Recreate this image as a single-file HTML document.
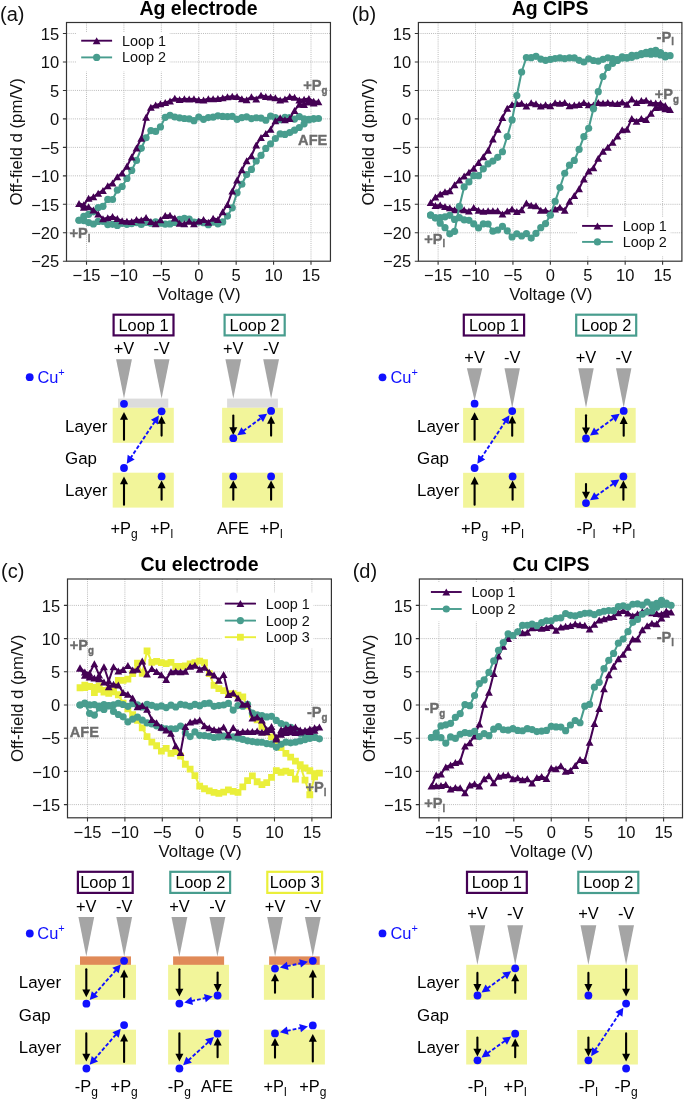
<!DOCTYPE html>
<html><head><meta charset="utf-8"><title>Figure</title><style>
html,body{margin:0;padding:0;background:#fff;}
svg{display:block;will-change:transform;}
text{font-family:"Liberation Sans", sans-serif;}
.tk{font-size:16.5px;fill:#111;}
.al{font-size:16.8px;fill:#111;}
.ti{font-size:19.5px;font-weight:bold;fill:#000;}
.pl{font-size:20px;fill:#111;}
.lg{font-size:14.4px;fill:#111;}
.an{font-size:15px;font-weight:bold;fill:#6c6c6c;stroke:#6c6c6c;stroke-width:0.35px;}
.ans{font-size:10px;}
.dg{font-size:16.4px;fill:#000;}
.ds{font-size:12px;}
.sup{font-size:11px;}
.side{font-size:16.9px;}
</style></head><body>
<svg width="685" height="1099" viewBox="0 0 685 1099">
<rect width="685" height="1099" fill="#fff"/>
<path d="M86.51 22.5V261.2M123.92 22.5V261.2M161.34 22.5V261.2M198.75 22.5V261.2M236.16 22.5V261.2M273.58 22.5V261.2M311 22.5V261.2M66.5 33.49H330.45M66.5 61.96H330.45M66.5 90.43H330.45M66.5 118.9H330.45M66.5 147.37H330.45M66.5 175.84H330.45M66.5 204.31H330.45M66.5 232.78H330.45" stroke="#b4b4b4" stroke-width="0.9" stroke-dasharray="1 1.1" fill="none"/>
<path d="M86.51 261.2v3.6M123.92 261.2v3.6M161.34 261.2v3.6M198.75 261.2v3.6M236.16 261.2v3.6M273.58 261.2v3.6M311 261.2v3.6M66.5 33.49h-3.6M66.5 61.96h-3.6M66.5 90.43h-3.6M66.5 118.9h-3.6M66.5 147.37h-3.6M66.5 175.84h-3.6M66.5 204.31h-3.6M66.5 232.78h-3.6M66.5 261.25h-3.6" stroke="#333" stroke-width="1.1" fill="none"/>
<text x="86.51" y="281" text-anchor="middle" class="tk">−15</text>
<text x="123.92" y="281" text-anchor="middle" class="tk">−10</text>
<text x="161.34" y="281" text-anchor="middle" class="tk">−5</text>
<text x="198.75" y="281" text-anchor="middle" class="tk">0</text>
<text x="236.16" y="281" text-anchor="middle" class="tk">5</text>
<text x="273.58" y="281" text-anchor="middle" class="tk">10</text>
<text x="311" y="281" text-anchor="middle" class="tk">15</text>
<text x="59.2" y="39.69" text-anchor="end" class="tk">15</text>
<text x="59.2" y="68.16" text-anchor="end" class="tk">10</text>
<text x="59.2" y="96.63" text-anchor="end" class="tk">5</text>
<text x="59.2" y="125.1" text-anchor="end" class="tk">0</text>
<text x="59.2" y="153.57" text-anchor="end" class="tk">−5</text>
<text x="59.2" y="182.04" text-anchor="end" class="tk">−10</text>
<text x="59.2" y="210.51" text-anchor="end" class="tk">−15</text>
<text x="59.2" y="238.98" text-anchor="end" class="tk">−20</text>
<text x="59.2" y="267.45" text-anchor="end" class="tk">−25</text>
<text x="199.07" y="300" text-anchor="middle" class="al">Voltage (V)</text>
<text transform="translate(22.2 141.85) rotate(-90)" text-anchor="middle" class="al">Off-field d (pm/V)</text>
<text x="198.47" y="14.5" text-anchor="middle" class="ti">Ag electrode</text>
<text x="0" y="20.9" class="pl">(a)</text>
<polyline points="79.02,220.25 83.81,220.57 88.6,222.61 93.39,223.99 98.18,221.44 102.97,221.52 107.76,224.62 112.55,224.36 117.33,225.42 122.12,223.28 126.91,224.28 131.7,223.62 136.49,222.58 141.28,224.43 146.07,222.4 150.86,223.17 155.65,221.8 160.44,223.26 165.23,224.15 170.02,223.91 174.8,222.41 179.59,219.39 184.38,218.23 189.17,219.12 193.96,222.17 198.75,222.06 203.54,222.74 208.33,224.71 213.12,222.22 217.91,223.87 222.7,221.96 227.48,216.04 232.27,207.83 237.06,192.8 241.85,184.27 246.64,174.54 251.43,169.41 256.22,160.99 261.01,155.38 265.8,148.39 270.59,143.73 275.38,138.52 280.17,133.96 284.95,134.39 289.74,132.56 294.53,130.15 299.32,127.49 304.11,123.78 308.9,119.82 313.69,118.82 318.48,118.52 313.69,118.81 308.9,119.39 304.11,118.79 299.32,116.55 294.53,119.03 289.74,117.65 284.95,117.37 280.17,119.71 275.38,117.72 270.59,116.1 265.8,120.23 261.01,118.07 256.22,117.76 251.43,118.62 246.64,116.93 241.85,117.6 237.06,119.32 232.27,116.47 227.48,116.7 222.7,116.39 217.91,115.81 213.12,117.2 208.33,117.54 203.54,119.35 198.75,116.99 193.96,120.71 189.17,118.97 184.38,118.48 179.59,117.83 174.8,117 170.02,115.23 165.23,117.35 160.44,126.96 155.65,131.38 150.86,130.57 146.07,137.77 141.28,148.36 136.49,160.47 131.7,170.39 126.91,178.46 122.12,186.48 117.33,190.07 112.55,199.5 107.76,199.41 102.97,206.37 98.18,207.57 93.39,211.81 88.6,214.37 83.81,216.47 79.02,220.25" fill="none" stroke="#489d8e" stroke-width="2.05" stroke-linejoin="round"/>
<g fill="#489d8e"><circle cx="79.02" cy="220.25" r="3.6"/><circle cx="83.81" cy="220.57" r="3.6"/><circle cx="88.6" cy="222.61" r="3.6"/><circle cx="93.39" cy="223.99" r="3.6"/><circle cx="98.18" cy="221.44" r="3.6"/><circle cx="102.97" cy="221.52" r="3.6"/><circle cx="107.76" cy="224.62" r="3.6"/><circle cx="112.55" cy="224.36" r="3.6"/><circle cx="117.33" cy="225.42" r="3.6"/><circle cx="122.12" cy="223.28" r="3.6"/><circle cx="126.91" cy="224.28" r="3.6"/><circle cx="131.7" cy="223.62" r="3.6"/><circle cx="136.49" cy="222.58" r="3.6"/><circle cx="141.28" cy="224.43" r="3.6"/><circle cx="146.07" cy="222.4" r="3.6"/><circle cx="150.86" cy="223.17" r="3.6"/><circle cx="155.65" cy="221.8" r="3.6"/><circle cx="160.44" cy="223.26" r="3.6"/><circle cx="165.23" cy="224.15" r="3.6"/><circle cx="170.02" cy="223.91" r="3.6"/><circle cx="174.8" cy="222.41" r="3.6"/><circle cx="179.59" cy="219.39" r="3.6"/><circle cx="184.38" cy="218.23" r="3.6"/><circle cx="189.17" cy="219.12" r="3.6"/><circle cx="193.96" cy="222.17" r="3.6"/><circle cx="198.75" cy="222.06" r="3.6"/><circle cx="203.54" cy="222.74" r="3.6"/><circle cx="208.33" cy="224.71" r="3.6"/><circle cx="213.12" cy="222.22" r="3.6"/><circle cx="217.91" cy="223.87" r="3.6"/><circle cx="222.7" cy="221.96" r="3.6"/><circle cx="227.48" cy="216.04" r="3.6"/><circle cx="232.27" cy="207.83" r="3.6"/><circle cx="237.06" cy="192.8" r="3.6"/><circle cx="241.85" cy="184.27" r="3.6"/><circle cx="246.64" cy="174.54" r="3.6"/><circle cx="251.43" cy="169.41" r="3.6"/><circle cx="256.22" cy="160.99" r="3.6"/><circle cx="261.01" cy="155.38" r="3.6"/><circle cx="265.8" cy="148.39" r="3.6"/><circle cx="270.59" cy="143.73" r="3.6"/><circle cx="275.38" cy="138.52" r="3.6"/><circle cx="280.17" cy="133.96" r="3.6"/><circle cx="284.95" cy="134.39" r="3.6"/><circle cx="289.74" cy="132.56" r="3.6"/><circle cx="294.53" cy="130.15" r="3.6"/><circle cx="299.32" cy="127.49" r="3.6"/><circle cx="304.11" cy="123.78" r="3.6"/><circle cx="308.9" cy="119.82" r="3.6"/><circle cx="313.69" cy="118.82" r="3.6"/><circle cx="318.48" cy="118.52" r="3.6"/><circle cx="313.69" cy="118.81" r="3.6"/><circle cx="308.9" cy="119.39" r="3.6"/><circle cx="304.11" cy="118.79" r="3.6"/><circle cx="299.32" cy="116.55" r="3.6"/><circle cx="294.53" cy="119.03" r="3.6"/><circle cx="289.74" cy="117.65" r="3.6"/><circle cx="284.95" cy="117.37" r="3.6"/><circle cx="280.17" cy="119.71" r="3.6"/><circle cx="275.38" cy="117.72" r="3.6"/><circle cx="270.59" cy="116.1" r="3.6"/><circle cx="265.8" cy="120.23" r="3.6"/><circle cx="261.01" cy="118.07" r="3.6"/><circle cx="256.22" cy="117.76" r="3.6"/><circle cx="251.43" cy="118.62" r="3.6"/><circle cx="246.64" cy="116.93" r="3.6"/><circle cx="241.85" cy="117.6" r="3.6"/><circle cx="237.06" cy="119.32" r="3.6"/><circle cx="232.27" cy="116.47" r="3.6"/><circle cx="227.48" cy="116.7" r="3.6"/><circle cx="222.7" cy="116.39" r="3.6"/><circle cx="217.91" cy="115.81" r="3.6"/><circle cx="213.12" cy="117.2" r="3.6"/><circle cx="208.33" cy="117.54" r="3.6"/><circle cx="203.54" cy="119.35" r="3.6"/><circle cx="198.75" cy="116.99" r="3.6"/><circle cx="193.96" cy="120.71" r="3.6"/><circle cx="189.17" cy="118.97" r="3.6"/><circle cx="184.38" cy="118.48" r="3.6"/><circle cx="179.59" cy="117.83" r="3.6"/><circle cx="174.8" cy="117" r="3.6"/><circle cx="170.02" cy="115.23" r="3.6"/><circle cx="165.23" cy="117.35" r="3.6"/><circle cx="160.44" cy="126.96" r="3.6"/><circle cx="155.65" cy="131.38" r="3.6"/><circle cx="150.86" cy="130.57" r="3.6"/><circle cx="146.07" cy="137.77" r="3.6"/><circle cx="141.28" cy="148.36" r="3.6"/><circle cx="136.49" cy="160.47" r="3.6"/><circle cx="131.7" cy="170.39" r="3.6"/><circle cx="126.91" cy="178.46" r="3.6"/><circle cx="122.12" cy="186.48" r="3.6"/><circle cx="117.33" cy="190.07" r="3.6"/><circle cx="112.55" cy="199.5" r="3.6"/><circle cx="107.76" cy="199.41" r="3.6"/><circle cx="102.97" cy="206.37" r="3.6"/><circle cx="98.18" cy="207.57" r="3.6"/><circle cx="93.39" cy="211.81" r="3.6"/><circle cx="88.6" cy="214.37" r="3.6"/><circle cx="83.81" cy="216.47" r="3.6"/><circle cx="79.02" cy="220.25" r="3.6"/></g>
<polyline points="79.02,203.46 83.81,207.22 88.6,206.74 93.39,210.08 98.18,213.88 102.97,218.65 107.76,217.76 112.55,216.5 117.33,218.57 122.12,220.85 126.91,221.31 131.7,221.38 136.49,219.41 141.28,220.11 146.07,217.52 150.86,221.39 155.65,223.67 160.44,219.84 165.23,215.42 170.02,215.28 174.8,218 179.59,223.32 184.38,223.83 189.17,221.3 193.96,223.86 198.75,221.05 203.54,219.4 208.33,222.17 213.12,218.37 217.91,219.53 222.7,211.78 227.48,204.42 232.27,191.08 237.06,180.05 241.85,169.65 246.64,160.71 251.43,155.74 256.22,144.88 261.01,137.56 265.8,133.4 270.59,129.15 275.38,120.82 280.17,117.7 284.95,119.84 289.74,118.51 294.53,110.59 299.32,104.25 304.11,104.51 308.9,102.03 313.69,103.05 318.48,101.82 313.69,101.24 308.9,98.57 304.11,99.29 299.32,99.88 294.53,97.22 289.74,96.57 284.95,98.96 280.17,99.99 275.38,97.7 270.59,96.99 265.8,96.54 261.01,95.14 256.22,98.91 251.43,96.78 246.64,99.65 241.85,98.68 237.06,96.54 232.27,96.15 227.48,96.85 222.7,97.86 217.91,98.47 213.12,98.83 208.33,98.66 203.54,99.97 198.75,99.76 193.96,98.78 189.17,99.05 184.38,98.7 179.59,99.55 174.8,98.32 170.02,100.96 165.23,102.53 160.44,103.86 155.65,104.89 150.86,107.16 146.07,117.25 141.28,138.32 136.49,147.94 131.7,157.05 126.91,166.16 122.12,172.88 117.33,176.68 112.55,182.88 107.76,185.79 102.97,190.5 98.18,193.2 93.39,196.87 88.6,198.22 83.81,204.85 79.02,203.46" fill="none" stroke="#440154" stroke-width="2.05" stroke-linejoin="round"/>
<path d="M79.02 199.96L82.92 206.96L75.12 206.96ZM83.81 203.72L87.71 210.72L79.91 210.72ZM88.6 203.24L92.5 210.24L84.7 210.24ZM93.39 206.58L97.29 213.58L89.49 213.58ZM98.18 210.38L102.08 217.38L94.28 217.38ZM102.97 215.15L106.87 222.15L99.07 222.15ZM107.76 214.26L111.66 221.26L103.86 221.26ZM112.55 213L116.45 220L108.65 220ZM117.33 215.07L121.23 222.07L113.43 222.07ZM122.12 217.35L126.02 224.35L118.22 224.35ZM126.91 217.81L130.81 224.81L123.01 224.81ZM131.7 217.88L135.6 224.88L127.8 224.88ZM136.49 215.91L140.39 222.91L132.59 222.91ZM141.28 216.61L145.18 223.61L137.38 223.61ZM146.07 214.02L149.97 221.02L142.17 221.02ZM150.86 217.89L154.76 224.89L146.96 224.89ZM155.65 220.17L159.55 227.17L151.75 227.17ZM160.44 216.34L164.34 223.34L156.54 223.34ZM165.23 211.92L169.13 218.92L161.33 218.92ZM170.02 211.78L173.92 218.78L166.12 218.78ZM174.8 214.5L178.7 221.5L170.9 221.5ZM179.59 219.82L183.49 226.82L175.69 226.82ZM184.38 220.33L188.28 227.33L180.48 227.33ZM189.17 217.8L193.07 224.8L185.27 224.8ZM193.96 220.36L197.86 227.36L190.06 227.36ZM198.75 217.55L202.65 224.55L194.85 224.55ZM203.54 215.9L207.44 222.9L199.64 222.9ZM208.33 218.67L212.23 225.67L204.43 225.67ZM213.12 214.87L217.02 221.87L209.22 221.87ZM217.91 216.03L221.81 223.03L214.01 223.03ZM222.7 208.28L226.6 215.28L218.8 215.28ZM227.48 200.92L231.38 207.92L223.58 207.92ZM232.27 187.58L236.17 194.58L228.37 194.58ZM237.06 176.55L240.96 183.55L233.16 183.55ZM241.85 166.15L245.75 173.15L237.95 173.15ZM246.64 157.21L250.54 164.21L242.74 164.21ZM251.43 152.24L255.33 159.24L247.53 159.24ZM256.22 141.38L260.12 148.38L252.32 148.38ZM261.01 134.06L264.91 141.06L257.11 141.06ZM265.8 129.9L269.7 136.9L261.9 136.9ZM270.59 125.65L274.49 132.65L266.69 132.65ZM275.38 117.32L279.28 124.32L271.48 124.32ZM280.17 114.2L284.07 121.2L276.27 121.2ZM284.95 116.34L288.85 123.34L281.05 123.34ZM289.74 115.01L293.64 122.01L285.84 122.01ZM294.53 107.09L298.43 114.09L290.63 114.09ZM299.32 100.75L303.22 107.75L295.42 107.75ZM304.11 101.01L308.01 108.01L300.21 108.01ZM308.9 98.53L312.8 105.53L305 105.53ZM313.69 99.55L317.59 106.55L309.79 106.55ZM318.48 98.32L322.38 105.32L314.58 105.32ZM313.69 97.74L317.59 104.74L309.79 104.74ZM308.9 95.07L312.8 102.07L305 102.07ZM304.11 95.79L308.01 102.79L300.21 102.79ZM299.32 96.38L303.22 103.38L295.42 103.38ZM294.53 93.72L298.43 100.72L290.63 100.72ZM289.74 93.07L293.64 100.07L285.84 100.07ZM284.95 95.46L288.85 102.46L281.05 102.46ZM280.17 96.49L284.07 103.49L276.27 103.49ZM275.38 94.2L279.28 101.2L271.48 101.2ZM270.59 93.49L274.49 100.49L266.69 100.49ZM265.8 93.04L269.7 100.04L261.9 100.04ZM261.01 91.64L264.91 98.64L257.11 98.64ZM256.22 95.41L260.12 102.41L252.32 102.41ZM251.43 93.28L255.33 100.28L247.53 100.28ZM246.64 96.15L250.54 103.15L242.74 103.15ZM241.85 95.18L245.75 102.18L237.95 102.18ZM237.06 93.04L240.96 100.04L233.16 100.04ZM232.27 92.65L236.17 99.65L228.37 99.65ZM227.48 93.35L231.38 100.35L223.58 100.35ZM222.7 94.36L226.6 101.36L218.8 101.36ZM217.91 94.97L221.81 101.97L214.01 101.97ZM213.12 95.33L217.02 102.33L209.22 102.33ZM208.33 95.16L212.23 102.16L204.43 102.16ZM203.54 96.47L207.44 103.47L199.64 103.47ZM198.75 96.26L202.65 103.26L194.85 103.26ZM193.96 95.28L197.86 102.28L190.06 102.28ZM189.17 95.55L193.07 102.55L185.27 102.55ZM184.38 95.2L188.28 102.2L180.48 102.2ZM179.59 96.05L183.49 103.05L175.69 103.05ZM174.8 94.82L178.7 101.82L170.9 101.82ZM170.02 97.46L173.92 104.46L166.12 104.46ZM165.23 99.03L169.13 106.03L161.33 106.03ZM160.44 100.36L164.34 107.36L156.54 107.36ZM155.65 101.39L159.55 108.39L151.75 108.39ZM150.86 103.66L154.76 110.66L146.96 110.66ZM146.07 113.75L149.97 120.75L142.17 120.75ZM141.28 134.82L145.18 141.82L137.38 141.82ZM136.49 144.44L140.39 151.44L132.59 151.44ZM131.7 153.55L135.6 160.55L127.8 160.55ZM126.91 162.66L130.81 169.66L123.01 169.66ZM122.12 169.38L126.02 176.38L118.22 176.38ZM117.33 173.18L121.23 180.18L113.43 180.18ZM112.55 179.38L116.45 186.38L108.65 186.38ZM107.76 182.29L111.66 189.29L103.86 189.29ZM102.97 187L106.87 194L99.07 194ZM98.18 189.7L102.08 196.7L94.28 196.7ZM93.39 193.37L97.29 200.37L89.49 200.37ZM88.6 194.72L92.5 201.72L84.7 201.72ZM83.81 201.35L87.71 208.35L79.91 208.35ZM79.02 199.96L82.92 206.96L75.12 206.96Z" fill="#440154"/>
<rect x="66.5" y="22.5" width="263.95" height="238.7" fill="none" stroke="#333" stroke-width="1.2"/>
<rect x="76.4" y="32.2" width="93.2" height="39.3" fill="#fff"/>
<path d="M81.2 40.7H112.1" stroke="#440154" stroke-width="1.9"/>
<path d="M96.65 37.2L100.55 44.2L92.75 44.2Z" fill="#440154"/>
<text x="122" y="45.9" class="lg">Loop 1</text>
<path d="M81.2 57.4H112.1" stroke="#489d8e" stroke-width="1.9"/>
<circle cx="96.65" cy="57.4" r="3.6" fill="#489d8e"/>
<text x="122" y="62.4" class="lg">Loop 2</text>
<text transform="translate(303.3 90.4) scale(0.975 1.03)" class="an">+P<tspan dy="3.6" dx="0" class="ans">g</tspan></text>
<text transform="translate(298.1 144.6) scale(0.975 1.03)" class="an">AFE</text>
<text transform="translate(69.5 238.4) scale(0.975 1.03)" class="an">+P<tspan dy="3.6" dx="0" class="ans">l</tspan></text>
<path d="M438.11 22.5V261.2M475.52 22.5V261.2M512.94 22.5V261.2M550.35 22.5V261.2M587.76 22.5V261.2M625.18 22.5V261.2M662.6 22.5V261.2M418.4 33.49H681.9M418.4 61.96H681.9M418.4 90.43H681.9M418.4 118.9H681.9M418.4 147.37H681.9M418.4 175.84H681.9M418.4 204.31H681.9M418.4 232.78H681.9" stroke="#b4b4b4" stroke-width="0.9" stroke-dasharray="1 1.1" fill="none"/>
<path d="M438.11 261.2v3.6M475.52 261.2v3.6M512.94 261.2v3.6M550.35 261.2v3.6M587.76 261.2v3.6M625.18 261.2v3.6M662.6 261.2v3.6M418.4 33.49h-3.6M418.4 61.96h-3.6M418.4 90.43h-3.6M418.4 118.9h-3.6M418.4 147.37h-3.6M418.4 175.84h-3.6M418.4 204.31h-3.6M418.4 232.78h-3.6M418.4 261.25h-3.6" stroke="#333" stroke-width="1.1" fill="none"/>
<text x="438.11" y="281" text-anchor="middle" class="tk">−15</text>
<text x="475.52" y="281" text-anchor="middle" class="tk">−10</text>
<text x="512.94" y="281" text-anchor="middle" class="tk">−5</text>
<text x="550.35" y="281" text-anchor="middle" class="tk">0</text>
<text x="587.76" y="281" text-anchor="middle" class="tk">5</text>
<text x="625.18" y="281" text-anchor="middle" class="tk">10</text>
<text x="662.6" y="281" text-anchor="middle" class="tk">15</text>
<text x="411.1" y="39.69" text-anchor="end" class="tk">15</text>
<text x="411.1" y="68.16" text-anchor="end" class="tk">10</text>
<text x="411.1" y="96.63" text-anchor="end" class="tk">5</text>
<text x="411.1" y="125.1" text-anchor="end" class="tk">0</text>
<text x="411.1" y="153.57" text-anchor="end" class="tk">−5</text>
<text x="411.1" y="182.04" text-anchor="end" class="tk">−10</text>
<text x="411.1" y="210.51" text-anchor="end" class="tk">−15</text>
<text x="411.1" y="238.98" text-anchor="end" class="tk">−20</text>
<text x="411.1" y="267.45" text-anchor="end" class="tk">−25</text>
<text x="550.75" y="300" text-anchor="middle" class="al">Voltage (V)</text>
<text transform="translate(374.4 141.85) rotate(-90)" text-anchor="middle" class="al">Off-field d (pm/V)</text>
<text x="550.15" y="14.5" text-anchor="middle" class="ti">Ag CIPS</text>
<text x="351.7" y="20.9" class="pl">(b)</text>
<polyline points="430.62,202.6 435.41,205.57 440.2,205.05 444.99,206.45 449.78,207.81 454.57,209.63 459.36,209 464.15,209.79 468.93,210.98 473.72,207.46 478.51,210.13 483.3,211.27 488.09,210.7 492.88,210.86 497.67,210.65 502.46,213.99 507.25,211.12 512.04,209.06 516.83,211.6 521.62,209.86 526.4,203.12 531.19,205.32 535.98,205.66 540.77,210.23 545.56,210.25 550.35,212.53 555.14,209.01 559.93,207.14 564.72,210.15 569.51,201.18 574.3,195.51 579.08,188.77 583.87,178.92 588.66,170.88 593.45,167.64 598.24,158.26 603.03,151.26 607.82,147.22 612.61,142.37 617.4,136.03 622.19,129.78 626.98,129.36 631.77,118.51 636.55,121.23 641.34,118.56 646.13,119.62 650.92,113.36 655.71,107.41 660.5,107.14 665.29,108.84 670.08,109.56 665.29,105.45 660.5,103.19 655.71,102.92 650.92,102.75 646.13,100.35 641.34,100.6 636.55,102.46 631.77,99.02 626.98,104.26 622.19,101.92 617.4,103.59 612.61,103.27 607.82,102.58 603.03,103.07 598.24,102.42 593.45,105.01 588.66,104.87 583.87,102.38 579.08,104.6 574.3,104.93 569.51,105.72 564.72,102.53 559.93,103.37 555.14,102.64 550.35,105.84 545.56,104.66 540.77,106.09 535.98,103.71 531.19,102.83 526.4,106.12 521.62,103.23 516.83,103.54 512.04,104.39 507.25,108.35 502.46,117.59 497.67,129.18 492.88,138.93 488.09,150.2 483.3,156.71 478.51,162.42 473.72,168.2 468.93,172.3 464.15,176.09 459.36,180.08 454.57,184.66 449.78,190.64 444.99,191.75 440.2,193.99 435.41,197.03 430.62,202.6" fill="none" stroke="#440154" stroke-width="2.05" stroke-linejoin="round"/>
<path d="M430.62 199.1L434.52 206.1L426.72 206.1ZM435.41 202.07L439.31 209.07L431.51 209.07ZM440.2 201.55L444.1 208.55L436.3 208.55ZM444.99 202.95L448.89 209.95L441.09 209.95ZM449.78 204.31L453.68 211.31L445.88 211.31ZM454.57 206.13L458.47 213.13L450.67 213.13ZM459.36 205.5L463.26 212.5L455.46 212.5ZM464.15 206.29L468.05 213.29L460.25 213.29ZM468.93 207.48L472.83 214.48L465.03 214.48ZM473.72 203.96L477.62 210.96L469.82 210.96ZM478.51 206.63L482.41 213.63L474.61 213.63ZM483.3 207.77L487.2 214.77L479.4 214.77ZM488.09 207.2L491.99 214.2L484.19 214.2ZM492.88 207.36L496.78 214.36L488.98 214.36ZM497.67 207.15L501.57 214.15L493.77 214.15ZM502.46 210.49L506.36 217.49L498.56 217.49ZM507.25 207.62L511.15 214.62L503.35 214.62ZM512.04 205.56L515.94 212.56L508.14 212.56ZM516.83 208.1L520.73 215.1L512.93 215.1ZM521.62 206.36L525.52 213.36L517.72 213.36ZM526.4 199.62L530.3 206.62L522.5 206.62ZM531.19 201.82L535.09 208.82L527.29 208.82ZM535.98 202.16L539.88 209.16L532.08 209.16ZM540.77 206.73L544.67 213.73L536.87 213.73ZM545.56 206.75L549.46 213.75L541.66 213.75ZM550.35 209.03L554.25 216.03L546.45 216.03ZM555.14 205.51L559.04 212.51L551.24 212.51ZM559.93 203.64L563.83 210.64L556.03 210.64ZM564.72 206.65L568.62 213.65L560.82 213.65ZM569.51 197.68L573.41 204.68L565.61 204.68ZM574.3 192.01L578.2 199.01L570.4 199.01ZM579.08 185.27L582.98 192.27L575.18 192.27ZM583.87 175.42L587.77 182.42L579.97 182.42ZM588.66 167.38L592.56 174.38L584.76 174.38ZM593.45 164.14L597.35 171.14L589.55 171.14ZM598.24 154.76L602.14 161.76L594.34 161.76ZM603.03 147.76L606.93 154.76L599.13 154.76ZM607.82 143.72L611.72 150.72L603.92 150.72ZM612.61 138.87L616.51 145.87L608.71 145.87ZM617.4 132.53L621.3 139.53L613.5 139.53ZM622.19 126.28L626.09 133.28L618.29 133.28ZM626.98 125.86L630.88 132.86L623.08 132.86ZM631.77 115.01L635.67 122.01L627.87 122.01ZM636.55 117.73L640.45 124.73L632.65 124.73ZM641.34 115.06L645.24 122.06L637.44 122.06ZM646.13 116.12L650.03 123.12L642.23 123.12ZM650.92 109.86L654.82 116.86L647.02 116.86ZM655.71 103.91L659.61 110.91L651.81 110.91ZM660.5 103.64L664.4 110.64L656.6 110.64ZM665.29 105.34L669.19 112.34L661.39 112.34ZM670.08 106.06L673.98 113.06L666.18 113.06ZM665.29 101.95L669.19 108.95L661.39 108.95ZM660.5 99.69L664.4 106.69L656.6 106.69ZM655.71 99.42L659.61 106.42L651.81 106.42ZM650.92 99.25L654.82 106.25L647.02 106.25ZM646.13 96.85L650.03 103.85L642.23 103.85ZM641.34 97.1L645.24 104.1L637.44 104.1ZM636.55 98.96L640.45 105.96L632.65 105.96ZM631.77 95.52L635.67 102.52L627.87 102.52ZM626.98 100.76L630.88 107.76L623.08 107.76ZM622.19 98.42L626.09 105.42L618.29 105.42ZM617.4 100.09L621.3 107.09L613.5 107.09ZM612.61 99.77L616.51 106.77L608.71 106.77ZM607.82 99.08L611.72 106.08L603.92 106.08ZM603.03 99.57L606.93 106.57L599.13 106.57ZM598.24 98.92L602.14 105.92L594.34 105.92ZM593.45 101.51L597.35 108.51L589.55 108.51ZM588.66 101.37L592.56 108.37L584.76 108.37ZM583.87 98.88L587.77 105.88L579.97 105.88ZM579.08 101.1L582.98 108.1L575.18 108.1ZM574.3 101.43L578.2 108.43L570.4 108.43ZM569.51 102.22L573.41 109.22L565.61 109.22ZM564.72 99.03L568.62 106.03L560.82 106.03ZM559.93 99.87L563.83 106.87L556.03 106.87ZM555.14 99.14L559.04 106.14L551.24 106.14ZM550.35 102.34L554.25 109.34L546.45 109.34ZM545.56 101.16L549.46 108.16L541.66 108.16ZM540.77 102.59L544.67 109.59L536.87 109.59ZM535.98 100.21L539.88 107.21L532.08 107.21ZM531.19 99.33L535.09 106.33L527.29 106.33ZM526.4 102.62L530.3 109.62L522.5 109.62ZM521.62 99.73L525.52 106.73L517.72 106.73ZM516.83 100.04L520.73 107.04L512.93 107.04ZM512.04 100.89L515.94 107.89L508.14 107.89ZM507.25 104.85L511.15 111.85L503.35 111.85ZM502.46 114.09L506.36 121.09L498.56 121.09ZM497.67 125.68L501.57 132.68L493.77 132.68ZM492.88 135.43L496.78 142.43L488.98 142.43ZM488.09 146.7L491.99 153.7L484.19 153.7ZM483.3 153.21L487.2 160.21L479.4 160.21ZM478.51 158.92L482.41 165.92L474.61 165.92ZM473.72 164.7L477.62 171.7L469.82 171.7ZM468.93 168.8L472.83 175.8L465.03 175.8ZM464.15 172.59L468.05 179.59L460.25 179.59ZM459.36 176.58L463.26 183.58L455.46 183.58ZM454.57 181.16L458.47 188.16L450.67 188.16ZM449.78 187.14L453.68 194.14L445.88 194.14ZM444.99 188.25L448.89 195.25L441.09 195.25ZM440.2 190.49L444.1 197.49L436.3 197.49ZM435.41 193.53L439.31 200.53L431.51 200.53ZM430.62 199.1L434.52 206.1L426.72 206.1Z" fill="#440154"/>
<polyline points="430.62,215.13 435.41,217.97 440.2,217.7 444.99,216.8 449.78,215.36 454.57,219.41 459.36,217.66 464.15,219.78 468.93,220.31 473.72,223.88 478.51,227.85 483.3,223.93 488.09,224 492.88,231.15 497.67,230.01 502.46,226.43 507.25,230.78 512.04,236.99 516.83,233.77 521.62,235.98 526.4,233.57 531.19,238.06 535.98,233.43 540.77,227.66 545.56,223.58 550.35,215.13 555.14,201.4 559.93,187.59 564.72,173.25 569.51,165.14 574.3,160.39 579.08,149.47 583.87,136.65 588.66,128.31 593.45,108.65 598.24,91.66 603.03,76.51 607.82,67.41 612.61,63.35 617.4,60.4 622.19,58.18 626.98,58.03 631.77,55.38 636.55,56.02 641.34,53.64 646.13,52.35 650.92,51.47 655.71,53.78 660.5,52.57 665.29,56.95 670.08,55.7 665.29,55.23 660.5,54.99 655.71,50.46 650.92,54.21 646.13,53.66 641.34,54.62 636.55,55.41 631.77,57.28 626.98,57.7 622.19,56.76 617.4,59.6 612.61,58.63 607.82,57.86 603.03,59.36 598.24,61.03 593.45,60.51 588.66,58.84 583.87,62.02 579.08,60.34 574.3,57.96 569.51,57.87 564.72,58.58 559.93,57.94 555.14,58.5 550.35,59.45 545.56,60.3 540.77,59.03 535.98,56.34 531.19,57.71 526.4,57.52 521.62,72.01 516.83,95.53 512.04,119.94 507.25,136.48 502.46,151.74 497.67,157.36 492.88,161.09 488.09,163.78 483.3,168.82 478.51,175.69 473.72,175.69 468.93,181.95 464.15,186.97 459.36,206.43 454.57,231.33 449.78,233.79 444.99,227.69 440.2,223.17 435.41,217.73 430.62,215.13" fill="none" stroke="#489d8e" stroke-width="2.05" stroke-linejoin="round"/>
<g fill="#489d8e"><circle cx="430.62" cy="215.13" r="3.6"/><circle cx="435.41" cy="217.97" r="3.6"/><circle cx="440.2" cy="217.7" r="3.6"/><circle cx="444.99" cy="216.8" r="3.6"/><circle cx="449.78" cy="215.36" r="3.6"/><circle cx="454.57" cy="219.41" r="3.6"/><circle cx="459.36" cy="217.66" r="3.6"/><circle cx="464.15" cy="219.78" r="3.6"/><circle cx="468.93" cy="220.31" r="3.6"/><circle cx="473.72" cy="223.88" r="3.6"/><circle cx="478.51" cy="227.85" r="3.6"/><circle cx="483.3" cy="223.93" r="3.6"/><circle cx="488.09" cy="224" r="3.6"/><circle cx="492.88" cy="231.15" r="3.6"/><circle cx="497.67" cy="230.01" r="3.6"/><circle cx="502.46" cy="226.43" r="3.6"/><circle cx="507.25" cy="230.78" r="3.6"/><circle cx="512.04" cy="236.99" r="3.6"/><circle cx="516.83" cy="233.77" r="3.6"/><circle cx="521.62" cy="235.98" r="3.6"/><circle cx="526.4" cy="233.57" r="3.6"/><circle cx="531.19" cy="238.06" r="3.6"/><circle cx="535.98" cy="233.43" r="3.6"/><circle cx="540.77" cy="227.66" r="3.6"/><circle cx="545.56" cy="223.58" r="3.6"/><circle cx="550.35" cy="215.13" r="3.6"/><circle cx="555.14" cy="201.4" r="3.6"/><circle cx="559.93" cy="187.59" r="3.6"/><circle cx="564.72" cy="173.25" r="3.6"/><circle cx="569.51" cy="165.14" r="3.6"/><circle cx="574.3" cy="160.39" r="3.6"/><circle cx="579.08" cy="149.47" r="3.6"/><circle cx="583.87" cy="136.65" r="3.6"/><circle cx="588.66" cy="128.31" r="3.6"/><circle cx="593.45" cy="108.65" r="3.6"/><circle cx="598.24" cy="91.66" r="3.6"/><circle cx="603.03" cy="76.51" r="3.6"/><circle cx="607.82" cy="67.41" r="3.6"/><circle cx="612.61" cy="63.35" r="3.6"/><circle cx="617.4" cy="60.4" r="3.6"/><circle cx="622.19" cy="58.18" r="3.6"/><circle cx="626.98" cy="58.03" r="3.6"/><circle cx="631.77" cy="55.38" r="3.6"/><circle cx="636.55" cy="56.02" r="3.6"/><circle cx="641.34" cy="53.64" r="3.6"/><circle cx="646.13" cy="52.35" r="3.6"/><circle cx="650.92" cy="51.47" r="3.6"/><circle cx="655.71" cy="53.78" r="3.6"/><circle cx="660.5" cy="52.57" r="3.6"/><circle cx="665.29" cy="56.95" r="3.6"/><circle cx="670.08" cy="55.7" r="3.6"/><circle cx="665.29" cy="55.23" r="3.6"/><circle cx="660.5" cy="54.99" r="3.6"/><circle cx="655.71" cy="50.46" r="3.6"/><circle cx="650.92" cy="54.21" r="3.6"/><circle cx="646.13" cy="53.66" r="3.6"/><circle cx="641.34" cy="54.62" r="3.6"/><circle cx="636.55" cy="55.41" r="3.6"/><circle cx="631.77" cy="57.28" r="3.6"/><circle cx="626.98" cy="57.7" r="3.6"/><circle cx="622.19" cy="56.76" r="3.6"/><circle cx="617.4" cy="59.6" r="3.6"/><circle cx="612.61" cy="58.63" r="3.6"/><circle cx="607.82" cy="57.86" r="3.6"/><circle cx="603.03" cy="59.36" r="3.6"/><circle cx="598.24" cy="61.03" r="3.6"/><circle cx="593.45" cy="60.51" r="3.6"/><circle cx="588.66" cy="58.84" r="3.6"/><circle cx="583.87" cy="62.02" r="3.6"/><circle cx="579.08" cy="60.34" r="3.6"/><circle cx="574.3" cy="57.96" r="3.6"/><circle cx="569.51" cy="57.87" r="3.6"/><circle cx="564.72" cy="58.58" r="3.6"/><circle cx="559.93" cy="57.94" r="3.6"/><circle cx="555.14" cy="58.5" r="3.6"/><circle cx="550.35" cy="59.45" r="3.6"/><circle cx="545.56" cy="60.3" r="3.6"/><circle cx="540.77" cy="59.03" r="3.6"/><circle cx="535.98" cy="56.34" r="3.6"/><circle cx="531.19" cy="57.71" r="3.6"/><circle cx="526.4" cy="57.52" r="3.6"/><circle cx="521.62" cy="72.01" r="3.6"/><circle cx="516.83" cy="95.53" r="3.6"/><circle cx="512.04" cy="119.94" r="3.6"/><circle cx="507.25" cy="136.48" r="3.6"/><circle cx="502.46" cy="151.74" r="3.6"/><circle cx="497.67" cy="157.36" r="3.6"/><circle cx="492.88" cy="161.09" r="3.6"/><circle cx="488.09" cy="163.78" r="3.6"/><circle cx="483.3" cy="168.82" r="3.6"/><circle cx="478.51" cy="175.69" r="3.6"/><circle cx="473.72" cy="175.69" r="3.6"/><circle cx="468.93" cy="181.95" r="3.6"/><circle cx="464.15" cy="186.97" r="3.6"/><circle cx="459.36" cy="206.43" r="3.6"/><circle cx="454.57" cy="231.33" r="3.6"/><circle cx="449.78" cy="233.79" r="3.6"/><circle cx="444.99" cy="227.69" r="3.6"/><circle cx="440.2" cy="223.17" r="3.6"/><circle cx="435.41" cy="217.73" r="3.6"/><circle cx="430.62" cy="215.13" r="3.6"/></g>
<rect x="418.4" y="22.5" width="263.5" height="238.7" fill="none" stroke="#333" stroke-width="1.2"/>
<rect x="578" y="217" width="92.5" height="39" fill="#fff"/>
<path d="M582.1 225.9H612.8" stroke="#440154" stroke-width="1.9"/>
<path d="M597.45 222.4L601.35 229.4L593.55 229.4Z" fill="#440154"/>
<text x="622.7" y="231.1" class="lg">Loop 1</text>
<path d="M582.1 241.9H612.8" stroke="#489d8e" stroke-width="1.9"/>
<circle cx="597.45" cy="241.9" r="3.6" fill="#489d8e"/>
<text x="622.7" y="247.3" class="lg">Loop 2</text>
<text transform="translate(656.6 41.6) scale(0.975 1.03)" class="an">-P<tspan dy="3.6" dx="0" class="ans">l</tspan></text>
<text transform="translate(654.7 99.2) scale(0.975 1.03)" class="an">+P<tspan dy="3.6" dx="0" class="ans">g</tspan></text>
<text transform="translate(424.3 243.5) scale(0.975 1.03)" class="an">+P<tspan dy="3.6" dx="0" class="ans">l</tspan></text>
<path d="M87.5 579V817.8M124.9 579V817.8M162.3 579V817.8M199.7 579V817.8M237.1 579V817.8M274.5 579V817.8M311.9 579V817.8M67.5 605.4H331.4M67.5 638.6H331.4M67.5 671.8H331.4M67.5 705H331.4M67.5 738.2H331.4M67.5 771.4H331.4M67.5 804.6H331.4" stroke="#b4b4b4" stroke-width="0.9" stroke-dasharray="1 1.1" fill="none"/>
<path d="M87.5 817.8v3.6M124.9 817.8v3.6M162.3 817.8v3.6M199.7 817.8v3.6M237.1 817.8v3.6M274.5 817.8v3.6M311.9 817.8v3.6M67.5 605.4h-3.6M67.5 638.6h-3.6M67.5 671.8h-3.6M67.5 705h-3.6M67.5 738.2h-3.6M67.5 771.4h-3.6M67.5 804.6h-3.6" stroke="#333" stroke-width="1.1" fill="none"/>
<text x="87.5" y="837.6" text-anchor="middle" class="tk">−15</text>
<text x="124.9" y="837.6" text-anchor="middle" class="tk">−10</text>
<text x="162.3" y="837.6" text-anchor="middle" class="tk">−5</text>
<text x="199.7" y="837.6" text-anchor="middle" class="tk">0</text>
<text x="237.1" y="837.6" text-anchor="middle" class="tk">5</text>
<text x="274.5" y="837.6" text-anchor="middle" class="tk">10</text>
<text x="311.9" y="837.6" text-anchor="middle" class="tk">15</text>
<text x="60.2" y="611.6" text-anchor="end" class="tk">15</text>
<text x="60.2" y="644.8" text-anchor="end" class="tk">10</text>
<text x="60.2" y="678" text-anchor="end" class="tk">5</text>
<text x="60.2" y="711.2" text-anchor="end" class="tk">0</text>
<text x="60.2" y="744.4" text-anchor="end" class="tk">−5</text>
<text x="60.2" y="777.6" text-anchor="end" class="tk">−10</text>
<text x="60.2" y="810.8" text-anchor="end" class="tk">−15</text>
<text x="200.05" y="856.6" text-anchor="middle" class="al">Voltage (V)</text>
<text transform="translate(23.2 698.4) rotate(-90)" text-anchor="middle" class="al">Off-field d (pm/V)</text>
<text x="199.45" y="571" text-anchor="middle" class="ti">Cu electrode</text>
<text x="1" y="578" class="pl">(c)</text>
<polyline points="80.02,687.74 84.81,687.6 89.59,686.51 94.38,692.65 99.17,689.29 103.96,690.5 108.74,693.45 113.53,691.14 118.32,680.47 123.1,680.34 127.89,679.1 132.68,673.64 137.47,663.22 142.25,673.26 147.04,650.92 151.83,662.3 156.62,661.36 161.4,662.67 166.19,663.62 170.98,662.3 175.76,666.49 180.55,666.45 185.34,665.84 190.13,663.79 194.91,662.58 199.7,661.18 204.49,662.77 209.27,673.53 214.06,685.38 218.85,688.56 223.64,690.7 228.42,693.71 233.21,693.71 238,695.1 242.78,696.92 247.57,705.89 252.36,714.22 257.15,719.81 261.93,726.43 266.72,732.02 271.51,736.9 276.3,741.87 281.08,747.5 285.87,753.38 290.66,757.22 295.44,761.19 300.23,764.76 305.02,767.98 309.81,770.73 314.59,773.64 319.38,773.16 314.59,776.76 309.81,794.75 305.02,780.09 300.23,765.49 295.44,779.04 290.66,772.66 285.87,771.19 281.08,772.27 276.3,770.69 271.51,777.28 266.72,782.58 261.93,784.63 257.15,781.74 252.36,775.8 247.57,780.66 242.78,786.86 238,792.29 233.21,791.32 228.42,789.78 223.64,792.08 218.85,793.29 214.06,792.37 209.27,790.84 204.49,788.75 199.7,786.09 194.91,775.69 190.13,769.09 185.34,764.24 180.55,756.04 175.76,751.48 170.98,753.3 166.19,748.34 161.4,751.1 156.62,745.76 151.83,742.03 147.04,736.56 142.25,727.96 137.47,720.33 132.68,714.72 127.89,708.89 123.1,703.1 118.32,694.77 113.53,691.9 108.74,689.86 103.96,692 99.17,685.81 94.38,687.28 89.59,686.59 84.81,685.17 80.02,687.74" fill="none" stroke="#eaef3a" stroke-width="2.05" stroke-linejoin="round"/>
<path d="M76.62 684.34h6.8v6.8h-6.8ZM81.41 684.2h6.8v6.8h-6.8ZM86.19 683.11h6.8v6.8h-6.8ZM90.98 689.25h6.8v6.8h-6.8ZM95.77 685.89h6.8v6.8h-6.8ZM100.56 687.1h6.8v6.8h-6.8ZM105.34 690.05h6.8v6.8h-6.8ZM110.13 687.74h6.8v6.8h-6.8ZM114.92 677.07h6.8v6.8h-6.8ZM119.7 676.94h6.8v6.8h-6.8ZM124.49 675.7h6.8v6.8h-6.8ZM129.28 670.24h6.8v6.8h-6.8ZM134.07 659.82h6.8v6.8h-6.8ZM138.85 669.86h6.8v6.8h-6.8ZM143.64 647.52h6.8v6.8h-6.8ZM148.43 658.9h6.8v6.8h-6.8ZM153.22 657.96h6.8v6.8h-6.8ZM158 659.27h6.8v6.8h-6.8ZM162.79 660.22h6.8v6.8h-6.8ZM167.58 658.9h6.8v6.8h-6.8ZM172.36 663.09h6.8v6.8h-6.8ZM177.15 663.05h6.8v6.8h-6.8ZM181.94 662.44h6.8v6.8h-6.8ZM186.73 660.39h6.8v6.8h-6.8ZM191.51 659.18h6.8v6.8h-6.8ZM196.3 657.78h6.8v6.8h-6.8ZM201.09 659.37h6.8v6.8h-6.8ZM205.87 670.13h6.8v6.8h-6.8ZM210.66 681.98h6.8v6.8h-6.8ZM215.45 685.16h6.8v6.8h-6.8ZM220.24 687.3h6.8v6.8h-6.8ZM225.02 690.31h6.8v6.8h-6.8ZM229.81 690.31h6.8v6.8h-6.8ZM234.6 691.7h6.8v6.8h-6.8ZM239.38 693.52h6.8v6.8h-6.8ZM244.17 702.49h6.8v6.8h-6.8ZM248.96 710.82h6.8v6.8h-6.8ZM253.75 716.41h6.8v6.8h-6.8ZM258.53 723.03h6.8v6.8h-6.8ZM263.32 728.62h6.8v6.8h-6.8ZM268.11 733.5h6.8v6.8h-6.8ZM272.9 738.47h6.8v6.8h-6.8ZM277.68 744.1h6.8v6.8h-6.8ZM282.47 749.98h6.8v6.8h-6.8ZM287.26 753.82h6.8v6.8h-6.8ZM292.04 757.79h6.8v6.8h-6.8ZM296.83 761.36h6.8v6.8h-6.8ZM301.62 764.58h6.8v6.8h-6.8ZM306.41 767.33h6.8v6.8h-6.8ZM311.19 770.24h6.8v6.8h-6.8ZM315.98 769.76h6.8v6.8h-6.8ZM311.19 773.36h6.8v6.8h-6.8ZM306.41 791.35h6.8v6.8h-6.8ZM301.62 776.69h6.8v6.8h-6.8ZM296.83 762.09h6.8v6.8h-6.8ZM292.04 775.64h6.8v6.8h-6.8ZM287.26 769.26h6.8v6.8h-6.8ZM282.47 767.79h6.8v6.8h-6.8ZM277.68 768.87h6.8v6.8h-6.8ZM272.9 767.29h6.8v6.8h-6.8ZM268.11 773.88h6.8v6.8h-6.8ZM263.32 779.18h6.8v6.8h-6.8ZM258.53 781.23h6.8v6.8h-6.8ZM253.75 778.34h6.8v6.8h-6.8ZM248.96 772.4h6.8v6.8h-6.8ZM244.17 777.26h6.8v6.8h-6.8ZM239.38 783.46h6.8v6.8h-6.8ZM234.6 788.89h6.8v6.8h-6.8ZM229.81 787.92h6.8v6.8h-6.8ZM225.02 786.38h6.8v6.8h-6.8ZM220.24 788.68h6.8v6.8h-6.8ZM215.45 789.89h6.8v6.8h-6.8ZM210.66 788.97h6.8v6.8h-6.8ZM205.87 787.44h6.8v6.8h-6.8ZM201.09 785.35h6.8v6.8h-6.8ZM196.3 782.69h6.8v6.8h-6.8ZM191.51 772.29h6.8v6.8h-6.8ZM186.73 765.69h6.8v6.8h-6.8ZM181.94 760.84h6.8v6.8h-6.8ZM177.15 752.64h6.8v6.8h-6.8ZM172.36 748.08h6.8v6.8h-6.8ZM167.58 749.9h6.8v6.8h-6.8ZM162.79 744.94h6.8v6.8h-6.8ZM158 747.7h6.8v6.8h-6.8ZM153.22 742.36h6.8v6.8h-6.8ZM148.43 738.63h6.8v6.8h-6.8ZM143.64 733.16h6.8v6.8h-6.8ZM138.85 724.56h6.8v6.8h-6.8ZM134.07 716.93h6.8v6.8h-6.8ZM129.28 711.32h6.8v6.8h-6.8ZM124.49 705.49h6.8v6.8h-6.8ZM119.7 699.7h6.8v6.8h-6.8ZM114.92 691.37h6.8v6.8h-6.8ZM110.13 688.5h6.8v6.8h-6.8ZM105.34 686.46h6.8v6.8h-6.8ZM100.56 688.6h6.8v6.8h-6.8ZM95.77 682.41h6.8v6.8h-6.8ZM90.98 683.88h6.8v6.8h-6.8ZM86.19 683.19h6.8v6.8h-6.8ZM81.41 681.77h6.8v6.8h-6.8ZM76.62 684.34h6.8v6.8h-6.8Z" fill="#eaef3a"/>
<polyline points="80.02,705 84.81,703.14 89.59,704.91 94.38,704.68 99.17,706.13 103.96,704.53 108.74,705.62 113.53,704.73 118.32,703.24 123.1,704.51 127.89,706.33 132.68,703.75 137.47,704.96 142.25,706.9 147.04,704.4 151.83,705.28 156.62,706.9 161.4,705.89 166.19,707.57 170.98,705.17 175.76,706.99 180.55,704.37 185.34,704.98 190.13,706.27 194.91,704.45 199.7,705.66 204.49,703.63 209.27,703.16 214.06,706.31 218.85,705.61 223.64,705 228.42,703.43 233.21,710.1 238,705.61 242.78,706.24 247.57,704.34 252.36,713.08 257.15,714.9 261.93,715.67 266.72,716.9 271.51,716.29 276.3,720.46 281.08,723.5 285.87,725 290.66,727.42 295.44,730.9 300.23,733.32 305.02,734.84 309.81,736.06 314.59,737.45 319.38,738.86 314.59,736.96 309.81,738.35 305.02,739.57 300.23,740.97 295.44,742.18 290.66,742.81 285.87,742.2 281.08,744.27 276.3,747.31 271.51,744.18 266.72,743.57 261.93,742.23 257.15,742.17 252.36,741.56 247.57,740.86 242.78,739.45 238,738.24 233.21,736.87 228.42,736.87 223.64,736.21 218.85,736.82 214.06,737.51 209.27,736.27 204.49,735.58 199.7,735.37 194.91,731.91 190.13,736.61 185.34,732.76 180.55,726.02 175.76,728.77 170.98,728.9 166.19,728.8 161.4,727.73 156.62,725.8 151.83,723.95 147.04,722.95 142.25,720.07 137.47,717.2 132.68,719.08 127.89,721.83 123.1,716.81 118.32,714.51 113.53,711.38 108.74,705.83 103.96,709.49 99.17,707.87 94.38,715.07 89.59,713.32 84.81,703.7 80.02,705" fill="none" stroke="#489d8e" stroke-width="2.05" stroke-linejoin="round"/>
<g fill="#489d8e"><circle cx="80.02" cy="705" r="3.6"/><circle cx="84.81" cy="703.14" r="3.6"/><circle cx="89.59" cy="704.91" r="3.6"/><circle cx="94.38" cy="704.68" r="3.6"/><circle cx="99.17" cy="706.13" r="3.6"/><circle cx="103.96" cy="704.53" r="3.6"/><circle cx="108.74" cy="705.62" r="3.6"/><circle cx="113.53" cy="704.73" r="3.6"/><circle cx="118.32" cy="703.24" r="3.6"/><circle cx="123.1" cy="704.51" r="3.6"/><circle cx="127.89" cy="706.33" r="3.6"/><circle cx="132.68" cy="703.75" r="3.6"/><circle cx="137.47" cy="704.96" r="3.6"/><circle cx="142.25" cy="706.9" r="3.6"/><circle cx="147.04" cy="704.4" r="3.6"/><circle cx="151.83" cy="705.28" r="3.6"/><circle cx="156.62" cy="706.9" r="3.6"/><circle cx="161.4" cy="705.89" r="3.6"/><circle cx="166.19" cy="707.57" r="3.6"/><circle cx="170.98" cy="705.17" r="3.6"/><circle cx="175.76" cy="706.99" r="3.6"/><circle cx="180.55" cy="704.37" r="3.6"/><circle cx="185.34" cy="704.98" r="3.6"/><circle cx="190.13" cy="706.27" r="3.6"/><circle cx="194.91" cy="704.45" r="3.6"/><circle cx="199.7" cy="705.66" r="3.6"/><circle cx="204.49" cy="703.63" r="3.6"/><circle cx="209.27" cy="703.16" r="3.6"/><circle cx="214.06" cy="706.31" r="3.6"/><circle cx="218.85" cy="705.61" r="3.6"/><circle cx="223.64" cy="705" r="3.6"/><circle cx="228.42" cy="703.43" r="3.6"/><circle cx="233.21" cy="710.1" r="3.6"/><circle cx="238" cy="705.61" r="3.6"/><circle cx="242.78" cy="706.24" r="3.6"/><circle cx="247.57" cy="704.34" r="3.6"/><circle cx="252.36" cy="713.08" r="3.6"/><circle cx="257.15" cy="714.9" r="3.6"/><circle cx="261.93" cy="715.67" r="3.6"/><circle cx="266.72" cy="716.9" r="3.6"/><circle cx="271.51" cy="716.29" r="3.6"/><circle cx="276.3" cy="720.46" r="3.6"/><circle cx="281.08" cy="723.5" r="3.6"/><circle cx="285.87" cy="725" r="3.6"/><circle cx="290.66" cy="727.42" r="3.6"/><circle cx="295.44" cy="730.9" r="3.6"/><circle cx="300.23" cy="733.32" r="3.6"/><circle cx="305.02" cy="734.84" r="3.6"/><circle cx="309.81" cy="736.06" r="3.6"/><circle cx="314.59" cy="737.45" r="3.6"/><circle cx="319.38" cy="738.86" r="3.6"/><circle cx="314.59" cy="736.96" r="3.6"/><circle cx="309.81" cy="738.35" r="3.6"/><circle cx="305.02" cy="739.57" r="3.6"/><circle cx="300.23" cy="740.97" r="3.6"/><circle cx="295.44" cy="742.18" r="3.6"/><circle cx="290.66" cy="742.81" r="3.6"/><circle cx="285.87" cy="742.2" r="3.6"/><circle cx="281.08" cy="744.27" r="3.6"/><circle cx="276.3" cy="747.31" r="3.6"/><circle cx="271.51" cy="744.18" r="3.6"/><circle cx="266.72" cy="743.57" r="3.6"/><circle cx="261.93" cy="742.23" r="3.6"/><circle cx="257.15" cy="742.17" r="3.6"/><circle cx="252.36" cy="741.56" r="3.6"/><circle cx="247.57" cy="740.86" r="3.6"/><circle cx="242.78" cy="739.45" r="3.6"/><circle cx="238" cy="738.24" r="3.6"/><circle cx="233.21" cy="736.87" r="3.6"/><circle cx="228.42" cy="736.87" r="3.6"/><circle cx="223.64" cy="736.21" r="3.6"/><circle cx="218.85" cy="736.82" r="3.6"/><circle cx="214.06" cy="737.51" r="3.6"/><circle cx="209.27" cy="736.27" r="3.6"/><circle cx="204.49" cy="735.58" r="3.6"/><circle cx="199.7" cy="735.37" r="3.6"/><circle cx="194.91" cy="731.91" r="3.6"/><circle cx="190.13" cy="736.61" r="3.6"/><circle cx="185.34" cy="732.76" r="3.6"/><circle cx="180.55" cy="726.02" r="3.6"/><circle cx="175.76" cy="728.77" r="3.6"/><circle cx="170.98" cy="728.9" r="3.6"/><circle cx="166.19" cy="728.8" r="3.6"/><circle cx="161.4" cy="727.73" r="3.6"/><circle cx="156.62" cy="725.8" r="3.6"/><circle cx="151.83" cy="723.95" r="3.6"/><circle cx="147.04" cy="722.95" r="3.6"/><circle cx="142.25" cy="720.07" r="3.6"/><circle cx="137.47" cy="717.2" r="3.6"/><circle cx="132.68" cy="719.08" r="3.6"/><circle cx="127.89" cy="721.83" r="3.6"/><circle cx="123.1" cy="716.81" r="3.6"/><circle cx="118.32" cy="714.51" r="3.6"/><circle cx="113.53" cy="711.38" r="3.6"/><circle cx="108.74" cy="705.83" r="3.6"/><circle cx="103.96" cy="709.49" r="3.6"/><circle cx="99.17" cy="707.87" r="3.6"/><circle cx="94.38" cy="715.07" r="3.6"/><circle cx="89.59" cy="713.32" r="3.6"/><circle cx="84.81" cy="703.7" r="3.6"/><circle cx="80.02" cy="705" r="3.6"/></g>
<polyline points="80.02,667.82 84.81,671.93 89.59,673.26 94.38,663.79 99.17,675.12 103.96,666.76 108.74,681.03 113.53,666.82 118.32,670.95 123.1,669.62 127.89,665.54 132.68,670.02 137.47,669.17 142.25,661.04 147.04,673.94 151.83,668.61 156.62,671.53 161.4,674.65 166.19,679.5 170.98,671.74 175.76,671.14 180.55,671.76 185.34,671.15 190.13,666.16 194.91,665.22 199.7,669.14 204.49,667.23 209.27,672.2 214.06,675.08 218.85,680.37 223.64,674.56 228.42,694.4 233.21,693.1 238,698.11 242.78,704.31 247.57,703.86 252.36,718.07 257.15,717.08 261.93,719.98 266.72,729.59 271.51,726.56 276.3,738.96 281.08,729.83 285.87,728.22 290.66,727.61 295.44,726.91 300.23,729.95 305.02,730.23 309.81,729.06 314.59,727.66 319.38,726.97 314.59,730.32 309.81,731.49 305.02,730.96 300.23,732.01 295.44,732.62 290.66,731.77 285.87,732.52 281.08,734.15 276.3,737.34 271.51,729.57 266.72,731.83 261.93,732.22 257.15,731.07 252.36,731.52 247.57,731.56 242.78,731.56 238,732.2 233.21,727.52 228.42,734.97 223.64,726.91 218.85,729.95 214.06,729.59 209.27,727.67 204.49,725.71 199.7,720.07 194.91,721 190.13,722 185.34,726.56 180.55,752.41 175.76,745.86 170.98,733.15 166.19,730.05 161.4,727.27 156.62,722.68 151.83,719.41 147.04,709.21 142.25,705.53 137.47,706.81 132.68,697.96 127.89,694.19 123.1,692.52 118.32,684.97 113.53,684.18 108.74,686.65 103.96,682.09 99.17,678.75 94.38,677.89 89.59,677.06 84.81,675.23 80.02,668.29" fill="none" stroke="#440154" stroke-width="2.05" stroke-linejoin="round"/>
<path d="M80.02 664.32L83.92 671.32L76.12 671.32ZM84.81 668.43L88.71 675.43L80.91 675.43ZM89.59 669.76L93.49 676.76L85.69 676.76ZM94.38 660.29L98.28 667.29L90.48 667.29ZM99.17 671.62L103.07 678.62L95.27 678.62ZM103.96 663.26L107.86 670.26L100.06 670.26ZM108.74 677.53L112.64 684.53L104.84 684.53ZM113.53 663.32L117.43 670.32L109.63 670.32ZM118.32 667.45L122.22 674.45L114.42 674.45ZM123.1 666.12L127 673.12L119.2 673.12ZM127.89 662.04L131.79 669.04L123.99 669.04ZM132.68 666.52L136.58 673.52L128.78 673.52ZM137.47 665.67L141.37 672.67L133.57 672.67ZM142.25 657.54L146.15 664.54L138.35 664.54ZM147.04 670.44L150.94 677.44L143.14 677.44ZM151.83 665.11L155.73 672.11L147.93 672.11ZM156.62 668.03L160.52 675.03L152.72 675.03ZM161.4 671.15L165.3 678.15L157.5 678.15ZM166.19 676L170.09 683L162.29 683ZM170.98 668.24L174.88 675.24L167.08 675.24ZM175.76 667.64L179.66 674.64L171.86 674.64ZM180.55 668.26L184.45 675.26L176.65 675.26ZM185.34 667.65L189.24 674.65L181.44 674.65ZM190.13 662.66L194.03 669.66L186.23 669.66ZM194.91 661.72L198.81 668.72L191.01 668.72ZM199.7 665.64L203.6 672.64L195.8 672.64ZM204.49 663.73L208.39 670.73L200.59 670.73ZM209.27 668.7L213.17 675.7L205.37 675.7ZM214.06 671.58L217.96 678.58L210.16 678.58ZM218.85 676.87L222.75 683.87L214.95 683.87ZM223.64 671.06L227.54 678.06L219.74 678.06ZM228.42 690.9L232.32 697.9L224.52 697.9ZM233.21 689.6L237.11 696.6L229.31 696.6ZM238 694.61L241.9 701.61L234.1 701.61ZM242.78 700.81L246.68 707.81L238.88 707.81ZM247.57 700.36L251.47 707.36L243.67 707.36ZM252.36 714.57L256.26 721.57L248.46 721.57ZM257.15 713.58L261.05 720.58L253.25 720.58ZM261.93 716.48L265.83 723.48L258.03 723.48ZM266.72 726.09L270.62 733.09L262.82 733.09ZM271.51 723.06L275.41 730.06L267.61 730.06ZM276.3 735.46L280.2 742.46L272.4 742.46ZM281.08 726.33L284.98 733.33L277.18 733.33ZM285.87 724.72L289.77 731.72L281.97 731.72ZM290.66 724.11L294.56 731.11L286.76 731.11ZM295.44 723.41L299.34 730.41L291.54 730.41ZM300.23 726.45L304.13 733.45L296.33 733.45ZM305.02 726.73L308.92 733.73L301.12 733.73ZM309.81 725.56L313.71 732.56L305.91 732.56ZM314.59 724.16L318.49 731.16L310.69 731.16ZM319.38 723.47L323.28 730.47L315.48 730.47ZM314.59 726.82L318.49 733.82L310.69 733.82ZM309.81 727.99L313.71 734.99L305.91 734.99ZM305.02 727.46L308.92 734.46L301.12 734.46ZM300.23 728.51L304.13 735.51L296.33 735.51ZM295.44 729.12L299.34 736.12L291.54 736.12ZM290.66 728.27L294.56 735.27L286.76 735.27ZM285.87 729.02L289.77 736.02L281.97 736.02ZM281.08 730.65L284.98 737.65L277.18 737.65ZM276.3 733.84L280.2 740.84L272.4 740.84ZM271.51 726.07L275.41 733.07L267.61 733.07ZM266.72 728.33L270.62 735.33L262.82 735.33ZM261.93 728.72L265.83 735.72L258.03 735.72ZM257.15 727.57L261.05 734.57L253.25 734.57ZM252.36 728.02L256.26 735.02L248.46 735.02ZM247.57 728.06L251.47 735.06L243.67 735.06ZM242.78 728.06L246.68 735.06L238.88 735.06ZM238 728.7L241.9 735.7L234.1 735.7ZM233.21 724.02L237.11 731.02L229.31 731.02ZM228.42 731.47L232.32 738.47L224.52 738.47ZM223.64 723.41L227.54 730.41L219.74 730.41ZM218.85 726.45L222.75 733.45L214.95 733.45ZM214.06 726.09L217.96 733.09L210.16 733.09ZM209.27 724.17L213.17 731.17L205.37 731.17ZM204.49 722.21L208.39 729.21L200.59 729.21ZM199.7 716.57L203.6 723.57L195.8 723.57ZM194.91 717.5L198.81 724.5L191.01 724.5ZM190.13 718.5L194.03 725.5L186.23 725.5ZM185.34 723.06L189.24 730.06L181.44 730.06ZM180.55 748.91L184.45 755.91L176.65 755.91ZM175.76 742.36L179.66 749.36L171.86 749.36ZM170.98 729.65L174.88 736.65L167.08 736.65ZM166.19 726.55L170.09 733.55L162.29 733.55ZM161.4 723.77L165.3 730.77L157.5 730.77ZM156.62 719.18L160.52 726.18L152.72 726.18ZM151.83 715.91L155.73 722.91L147.93 722.91ZM147.04 705.71L150.94 712.71L143.14 712.71ZM142.25 702.03L146.15 709.03L138.35 709.03ZM137.47 703.31L141.37 710.31L133.57 710.31ZM132.68 694.46L136.58 701.46L128.78 701.46ZM127.89 690.69L131.79 697.69L123.99 697.69ZM123.1 689.02L127 696.02L119.2 696.02ZM118.32 681.47L122.22 688.47L114.42 688.47ZM113.53 680.68L117.43 687.68L109.63 687.68ZM108.74 683.15L112.64 690.15L104.84 690.15ZM103.96 678.59L107.86 685.59L100.06 685.59ZM99.17 675.25L103.07 682.25L95.27 682.25ZM94.38 674.39L98.28 681.39L90.48 681.39ZM89.59 673.56L93.49 680.56L85.69 680.56ZM84.81 671.73L88.71 678.73L80.91 678.73ZM80.02 664.79L83.92 671.79L76.12 671.79Z" fill="#440154"/>
<rect x="67.5" y="579" width="263.9" height="238.8" fill="none" stroke="#333" stroke-width="1.2"/>
<rect x="221.5" y="592.5" width="92" height="56" fill="#fff"/>
<path d="M224.8 603.6H256" stroke="#440154" stroke-width="1.9"/>
<path d="M240.4 600.1L244.3 607.1L236.5 607.1Z" fill="#440154"/>
<text x="265.7" y="608.8" class="lg">Loop 1</text>
<path d="M224.8 620.6H256" stroke="#489d8e" stroke-width="1.9"/>
<circle cx="240.4" cy="620.6" r="3.6" fill="#489d8e"/>
<text x="265.7" y="625.7" class="lg">Loop 2</text>
<path d="M224.8 637.2H256" stroke="#eaef3a" stroke-width="1.9"/>
<rect x="237" y="633.8" width="6.8" height="6.8" fill="#eaef3a"/>
<text x="265.7" y="641.8" class="lg">Loop 3</text>
<text transform="translate(69.7 650.4) scale(0.975 1.03)" class="an">+P<tspan dy="3.6" dx="0" class="ans">g</tspan></text>
<text transform="translate(69.7 736.9) scale(0.975 1.03)" class="an">AFE</text>
<text transform="translate(306.9 717.1) scale(0.975 1.03)" class="an">-P<tspan dy="3.6" dx="0" class="ans">g</tspan></text>
<text transform="translate(305.5 792.1) scale(0.975 1.03)" class="an">+P<tspan dy="3.6" dx="0" class="ans">l</tspan></text>
<path d="M438.9 579V817.8M476.35 579V817.8M513.8 579V817.8M551.25 579V817.8M588.7 579V817.8M626.15 579V817.8M663.6 579V817.8M419.4 605.4H682.5M419.4 638.6H682.5M419.4 671.8H682.5M419.4 705H682.5M419.4 738.2H682.5M419.4 771.4H682.5M419.4 804.6H682.5" stroke="#b4b4b4" stroke-width="0.9" stroke-dasharray="1 1.1" fill="none"/>
<path d="M438.9 817.8v3.6M476.35 817.8v3.6M513.8 817.8v3.6M551.25 817.8v3.6M588.7 817.8v3.6M626.15 817.8v3.6M663.6 817.8v3.6M419.4 605.4h-3.6M419.4 638.6h-3.6M419.4 671.8h-3.6M419.4 705h-3.6M419.4 738.2h-3.6M419.4 771.4h-3.6M419.4 804.6h-3.6" stroke="#333" stroke-width="1.1" fill="none"/>
<text x="438.9" y="837.6" text-anchor="middle" class="tk">−15</text>
<text x="476.35" y="837.6" text-anchor="middle" class="tk">−10</text>
<text x="513.8" y="837.6" text-anchor="middle" class="tk">−5</text>
<text x="551.25" y="837.6" text-anchor="middle" class="tk">0</text>
<text x="588.7" y="837.6" text-anchor="middle" class="tk">5</text>
<text x="626.15" y="837.6" text-anchor="middle" class="tk">10</text>
<text x="663.6" y="837.6" text-anchor="middle" class="tk">15</text>
<text x="412.1" y="611.6" text-anchor="end" class="tk">15</text>
<text x="412.1" y="644.8" text-anchor="end" class="tk">10</text>
<text x="412.1" y="678" text-anchor="end" class="tk">5</text>
<text x="412.1" y="711.2" text-anchor="end" class="tk">0</text>
<text x="412.1" y="744.4" text-anchor="end" class="tk">−5</text>
<text x="412.1" y="777.6" text-anchor="end" class="tk">−10</text>
<text x="412.1" y="810.8" text-anchor="end" class="tk">−15</text>
<text x="551.55" y="856.6" text-anchor="middle" class="al">Voltage (V)</text>
<text transform="translate(375 698.4) rotate(-90)" text-anchor="middle" class="al">Off-field d (pm/V)</text>
<text x="550.95" y="571" text-anchor="middle" class="ti">Cu CIPS</text>
<text x="352.7" y="578" class="pl">(d)</text>
<polyline points="431.41,786.01 436.2,785.85 441,785.51 445.79,784.47 450.58,789.01 455.38,787.53 460.17,787.67 464.97,792.86 469.76,785.07 474.55,783.83 479.35,786.02 484.14,778.85 488.93,775.75 493.73,782.74 498.52,776.33 503.31,775.15 508.11,774.82 512.9,778.86 517.69,777.81 522.49,779.83 527.28,778.83 532.08,783.07 536.87,777.42 541.66,776.47 546.46,778.39 551.25,768.08 556.04,768.64 560.84,765.76 565.63,771.24 570.42,770.48 575.22,765.49 580.01,759.59 584.81,760.55 589.6,742.34 594.39,723.42 599.19,708.61 603.98,688.77 608.77,674.67 613.57,666.32 618.36,658.71 623.15,654.32 627.95,647.34 632.74,638.88 637.53,639.04 642.33,629.69 647.12,625.83 651.92,623.23 656.71,623.85 661.5,617.92 666.3,614.18 671.09,611.97 666.3,611.11 661.5,613.94 656.71,613.47 651.92,612.66 647.12,610.39 642.33,611.55 637.53,613.76 632.74,615.7 627.95,613.01 623.15,610.39 618.36,612.74 613.57,616.39 608.77,617.21 603.98,618.83 599.19,619.97 594.39,624.32 589.6,629.06 584.81,625.24 580.01,624.84 575.22,623.87 570.42,625.47 565.63,626.17 560.84,627 556.04,630.31 551.25,625.63 546.46,627.45 541.66,628.17 536.87,627.49 532.08,627.76 527.28,632.31 522.49,632.76 517.69,631.61 512.9,635.16 508.11,638.41 503.31,646.32 498.52,655.92 493.73,673.43 488.93,692.16 484.14,704.28 479.35,724.06 474.55,735.96 469.76,742.65 464.97,745.98 460.17,761.16 455.38,762.58 450.58,765.08 445.79,766.88 441,774.09 436.2,775.05 431.41,786.01" fill="none" stroke="#440154" stroke-width="2.05" stroke-linejoin="round"/>
<path d="M431.41 782.51L435.31 789.51L427.51 789.51ZM436.2 782.35L440.1 789.35L432.3 789.35ZM441 782.01L444.9 789.01L437.1 789.01ZM445.79 780.97L449.69 787.97L441.89 787.97ZM450.58 785.51L454.48 792.51L446.68 792.51ZM455.38 784.03L459.28 791.03L451.48 791.03ZM460.17 784.17L464.07 791.17L456.27 791.17ZM464.97 789.36L468.87 796.36L461.07 796.36ZM469.76 781.57L473.66 788.57L465.86 788.57ZM474.55 780.33L478.45 787.33L470.65 787.33ZM479.35 782.52L483.25 789.52L475.45 789.52ZM484.14 775.35L488.04 782.35L480.24 782.35ZM488.93 772.25L492.83 779.25L485.03 779.25ZM493.73 779.24L497.63 786.24L489.83 786.24ZM498.52 772.83L502.42 779.83L494.62 779.83ZM503.31 771.65L507.21 778.65L499.41 778.65ZM508.11 771.32L512.01 778.32L504.21 778.32ZM512.9 775.36L516.8 782.36L509 782.36ZM517.69 774.31L521.59 781.31L513.79 781.31ZM522.49 776.33L526.39 783.33L518.59 783.33ZM527.28 775.33L531.18 782.33L523.38 782.33ZM532.08 779.57L535.98 786.57L528.18 786.57ZM536.87 773.92L540.77 780.92L532.97 780.92ZM541.66 772.97L545.56 779.97L537.76 779.97ZM546.46 774.89L550.36 781.89L542.56 781.89ZM551.25 764.58L555.15 771.58L547.35 771.58ZM556.04 765.14L559.94 772.14L552.14 772.14ZM560.84 762.26L564.74 769.26L556.94 769.26ZM565.63 767.74L569.53 774.74L561.73 774.74ZM570.42 766.98L574.32 773.98L566.52 773.98ZM575.22 761.99L579.12 768.99L571.32 768.99ZM580.01 756.09L583.91 763.09L576.11 763.09ZM584.81 757.05L588.71 764.05L580.91 764.05ZM589.6 738.84L593.5 745.84L585.7 745.84ZM594.39 719.92L598.29 726.92L590.49 726.92ZM599.19 705.11L603.09 712.11L595.29 712.11ZM603.98 685.27L607.88 692.27L600.08 692.27ZM608.77 671.17L612.67 678.17L604.87 678.17ZM613.57 662.82L617.47 669.82L609.67 669.82ZM618.36 655.21L622.26 662.21L614.46 662.21ZM623.15 650.82L627.05 657.82L619.25 657.82ZM627.95 643.84L631.85 650.84L624.05 650.84ZM632.74 635.38L636.64 642.38L628.84 642.38ZM637.53 635.54L641.43 642.54L633.63 642.54ZM642.33 626.19L646.23 633.19L638.43 633.19ZM647.12 622.33L651.02 629.33L643.22 629.33ZM651.92 619.73L655.82 626.73L648.02 626.73ZM656.71 620.35L660.61 627.35L652.81 627.35ZM661.5 614.42L665.4 621.42L657.6 621.42ZM666.3 610.68L670.2 617.68L662.4 617.68ZM671.09 608.47L674.99 615.47L667.19 615.47ZM666.3 607.61L670.2 614.61L662.4 614.61ZM661.5 610.44L665.4 617.44L657.6 617.44ZM656.71 609.97L660.61 616.97L652.81 616.97ZM651.92 609.16L655.82 616.16L648.02 616.16ZM647.12 606.89L651.02 613.89L643.22 613.89ZM642.33 608.05L646.23 615.05L638.43 615.05ZM637.53 610.26L641.43 617.26L633.63 617.26ZM632.74 612.2L636.64 619.2L628.84 619.2ZM627.95 609.51L631.85 616.51L624.05 616.51ZM623.15 606.89L627.05 613.89L619.25 613.89ZM618.36 609.24L622.26 616.24L614.46 616.24ZM613.57 612.89L617.47 619.89L609.67 619.89ZM608.77 613.71L612.67 620.71L604.87 620.71ZM603.98 615.33L607.88 622.33L600.08 622.33ZM599.19 616.47L603.09 623.47L595.29 623.47ZM594.39 620.82L598.29 627.82L590.49 627.82ZM589.6 625.56L593.5 632.56L585.7 632.56ZM584.81 621.74L588.71 628.74L580.91 628.74ZM580.01 621.34L583.91 628.34L576.11 628.34ZM575.22 620.37L579.12 627.37L571.32 627.37ZM570.42 621.97L574.32 628.97L566.52 628.97ZM565.63 622.67L569.53 629.67L561.73 629.67ZM560.84 623.5L564.74 630.5L556.94 630.5ZM556.04 626.81L559.94 633.81L552.14 633.81ZM551.25 622.13L555.15 629.13L547.35 629.13ZM546.46 623.95L550.36 630.95L542.56 630.95ZM541.66 624.67L545.56 631.67L537.76 631.67ZM536.87 623.99L540.77 630.99L532.97 630.99ZM532.08 624.26L535.98 631.26L528.18 631.26ZM527.28 628.81L531.18 635.81L523.38 635.81ZM522.49 629.26L526.39 636.26L518.59 636.26ZM517.69 628.11L521.59 635.11L513.79 635.11ZM512.9 631.66L516.8 638.66L509 638.66ZM508.11 634.91L512.01 641.91L504.21 641.91ZM503.31 642.82L507.21 649.82L499.41 649.82ZM498.52 652.42L502.42 659.42L494.62 659.42ZM493.73 669.93L497.63 676.93L489.83 676.93ZM488.93 688.66L492.83 695.66L485.03 695.66ZM484.14 700.78L488.04 707.78L480.24 707.78ZM479.35 720.56L483.25 727.56L475.45 727.56ZM474.55 732.46L478.45 739.46L470.65 739.46ZM469.76 739.15L473.66 746.15L465.86 746.15ZM464.97 742.48L468.87 749.48L461.07 749.48ZM460.17 757.66L464.07 764.66L456.27 764.66ZM455.38 759.08L459.28 766.08L451.48 766.08ZM450.58 761.58L454.48 768.58L446.68 768.58ZM445.79 763.38L449.69 770.38L441.89 770.38ZM441 770.59L444.9 777.59L437.1 777.59ZM436.2 771.55L440.1 778.55L432.3 778.55ZM431.41 782.51L435.31 789.51L427.51 789.51Z" fill="#440154"/>
<polyline points="431.41,737.54 436.2,736.96 441,737.64 445.79,743.1 450.58,736.9 455.38,738.45 460.17,734.24 464.97,732.7 469.76,733.3 474.55,731.28 479.35,736.56 484.14,733.54 488.93,735.66 493.73,729.16 498.52,726.72 503.31,729.77 508.11,730.03 512.9,728.71 517.69,730.46 522.49,730.76 527.28,728.65 532.08,729.59 536.87,731.59 541.66,731.08 546.46,730.41 551.25,726.33 556.04,726.91 560.84,727.04 565.63,730.71 570.42,725.01 575.22,720.48 580.01,722.76 584.81,706.15 589.6,704.47 594.39,687.18 599.19,682.32 603.98,668.64 608.77,660.29 613.57,653.39 618.36,643.18 623.15,639.11 627.95,631.63 632.74,622.36 637.53,619.38 642.33,614.27 647.12,611.85 651.92,611.25 656.71,607.26 661.5,604.59 666.3,604.38 671.09,605.37 666.3,603.14 661.5,600.26 656.71,603.25 651.92,604.97 647.12,602.01 642.33,605.07 637.53,603.83 632.74,604.27 627.95,607.07 623.15,605.88 618.36,606.71 613.57,610.71 608.77,610.59 603.98,611.24 599.19,612.52 594.39,614.58 589.6,613.22 584.81,613.36 580.01,614.52 575.22,615.95 570.42,615.31 565.63,613.51 560.84,617.85 556.04,618.27 551.25,620.76 546.46,620.76 541.66,622.68 536.87,625.67 532.08,624.11 527.28,625.29 522.49,625.37 517.69,631.79 512.9,635.58 508.11,633.8 503.31,642.57 498.52,650.34 493.73,660.88 488.93,672.43 484.14,679.92 479.35,683.55 474.55,695.52 469.76,705.65 464.97,704.53 460.17,713.63 455.38,717.33 450.58,723.3 445.79,724.87 441,725.92 436.2,733.07 431.41,737.54" fill="none" stroke="#489d8e" stroke-width="2.05" stroke-linejoin="round"/>
<g fill="#489d8e"><circle cx="431.41" cy="737.54" r="3.6"/><circle cx="436.2" cy="736.96" r="3.6"/><circle cx="441" cy="737.64" r="3.6"/><circle cx="445.79" cy="743.1" r="3.6"/><circle cx="450.58" cy="736.9" r="3.6"/><circle cx="455.38" cy="738.45" r="3.6"/><circle cx="460.17" cy="734.24" r="3.6"/><circle cx="464.97" cy="732.7" r="3.6"/><circle cx="469.76" cy="733.3" r="3.6"/><circle cx="474.55" cy="731.28" r="3.6"/><circle cx="479.35" cy="736.56" r="3.6"/><circle cx="484.14" cy="733.54" r="3.6"/><circle cx="488.93" cy="735.66" r="3.6"/><circle cx="493.73" cy="729.16" r="3.6"/><circle cx="498.52" cy="726.72" r="3.6"/><circle cx="503.31" cy="729.77" r="3.6"/><circle cx="508.11" cy="730.03" r="3.6"/><circle cx="512.9" cy="728.71" r="3.6"/><circle cx="517.69" cy="730.46" r="3.6"/><circle cx="522.49" cy="730.76" r="3.6"/><circle cx="527.28" cy="728.65" r="3.6"/><circle cx="532.08" cy="729.59" r="3.6"/><circle cx="536.87" cy="731.59" r="3.6"/><circle cx="541.66" cy="731.08" r="3.6"/><circle cx="546.46" cy="730.41" r="3.6"/><circle cx="551.25" cy="726.33" r="3.6"/><circle cx="556.04" cy="726.91" r="3.6"/><circle cx="560.84" cy="727.04" r="3.6"/><circle cx="565.63" cy="730.71" r="3.6"/><circle cx="570.42" cy="725.01" r="3.6"/><circle cx="575.22" cy="720.48" r="3.6"/><circle cx="580.01" cy="722.76" r="3.6"/><circle cx="584.81" cy="706.15" r="3.6"/><circle cx="589.6" cy="704.47" r="3.6"/><circle cx="594.39" cy="687.18" r="3.6"/><circle cx="599.19" cy="682.32" r="3.6"/><circle cx="603.98" cy="668.64" r="3.6"/><circle cx="608.77" cy="660.29" r="3.6"/><circle cx="613.57" cy="653.39" r="3.6"/><circle cx="618.36" cy="643.18" r="3.6"/><circle cx="623.15" cy="639.11" r="3.6"/><circle cx="627.95" cy="631.63" r="3.6"/><circle cx="632.74" cy="622.36" r="3.6"/><circle cx="637.53" cy="619.38" r="3.6"/><circle cx="642.33" cy="614.27" r="3.6"/><circle cx="647.12" cy="611.85" r="3.6"/><circle cx="651.92" cy="611.25" r="3.6"/><circle cx="656.71" cy="607.26" r="3.6"/><circle cx="661.5" cy="604.59" r="3.6"/><circle cx="666.3" cy="604.38" r="3.6"/><circle cx="671.09" cy="605.37" r="3.6"/><circle cx="666.3" cy="603.14" r="3.6"/><circle cx="661.5" cy="600.26" r="3.6"/><circle cx="656.71" cy="603.25" r="3.6"/><circle cx="651.92" cy="604.97" r="3.6"/><circle cx="647.12" cy="602.01" r="3.6"/><circle cx="642.33" cy="605.07" r="3.6"/><circle cx="637.53" cy="603.83" r="3.6"/><circle cx="632.74" cy="604.27" r="3.6"/><circle cx="627.95" cy="607.07" r="3.6"/><circle cx="623.15" cy="605.88" r="3.6"/><circle cx="618.36" cy="606.71" r="3.6"/><circle cx="613.57" cy="610.71" r="3.6"/><circle cx="608.77" cy="610.59" r="3.6"/><circle cx="603.98" cy="611.24" r="3.6"/><circle cx="599.19" cy="612.52" r="3.6"/><circle cx="594.39" cy="614.58" r="3.6"/><circle cx="589.6" cy="613.22" r="3.6"/><circle cx="584.81" cy="613.36" r="3.6"/><circle cx="580.01" cy="614.52" r="3.6"/><circle cx="575.22" cy="615.95" r="3.6"/><circle cx="570.42" cy="615.31" r="3.6"/><circle cx="565.63" cy="613.51" r="3.6"/><circle cx="560.84" cy="617.85" r="3.6"/><circle cx="556.04" cy="618.27" r="3.6"/><circle cx="551.25" cy="620.76" r="3.6"/><circle cx="546.46" cy="620.76" r="3.6"/><circle cx="541.66" cy="622.68" r="3.6"/><circle cx="536.87" cy="625.67" r="3.6"/><circle cx="532.08" cy="624.11" r="3.6"/><circle cx="527.28" cy="625.29" r="3.6"/><circle cx="522.49" cy="625.37" r="3.6"/><circle cx="517.69" cy="631.79" r="3.6"/><circle cx="512.9" cy="635.58" r="3.6"/><circle cx="508.11" cy="633.8" r="3.6"/><circle cx="503.31" cy="642.57" r="3.6"/><circle cx="498.52" cy="650.34" r="3.6"/><circle cx="493.73" cy="660.88" r="3.6"/><circle cx="488.93" cy="672.43" r="3.6"/><circle cx="484.14" cy="679.92" r="3.6"/><circle cx="479.35" cy="683.55" r="3.6"/><circle cx="474.55" cy="695.52" r="3.6"/><circle cx="469.76" cy="705.65" r="3.6"/><circle cx="464.97" cy="704.53" r="3.6"/><circle cx="460.17" cy="713.63" r="3.6"/><circle cx="455.38" cy="717.33" r="3.6"/><circle cx="450.58" cy="723.3" r="3.6"/><circle cx="445.79" cy="724.87" r="3.6"/><circle cx="441" cy="725.92" r="3.6"/><circle cx="436.2" cy="733.07" r="3.6"/><circle cx="431.41" cy="737.54" r="3.6"/></g>
<rect x="419.4" y="579" width="263.1" height="238.8" fill="none" stroke="#333" stroke-width="1.2"/>
<rect x="427.8" y="582" width="91.2" height="39.5" fill="#fff"/>
<path d="M430.9 592H461.7" stroke="#440154" stroke-width="1.9"/>
<path d="M446.3 588.5L450.2 595.5L442.4 595.5Z" fill="#440154"/>
<text x="471.6" y="596.8" class="lg">Loop 1</text>
<path d="M430.9 609H461.7" stroke="#489d8e" stroke-width="1.9"/>
<circle cx="446.3" cy="609" r="3.6" fill="#489d8e"/>
<text x="471.6" y="613.7" class="lg">Loop 2</text>
<text transform="translate(656.7 642.4) scale(0.975 1.03)" class="an">-P<tspan dy="3.6" dx="0" class="ans">l</tspan></text>
<text transform="translate(424.6 713.3) scale(0.975 1.03)" class="an">-P<tspan dy="3.6" dx="0" class="ans">g</tspan></text>
<text transform="translate(424.3 808.3) scale(0.975 1.03)" class="an">+P<tspan dy="3.6" dx="0" class="ans">l</tspan></text>
<circle cx="29.7" cy="377.2" r="3.9" fill="#1010ff"/>
<text x="37.4" y="382.6" class="dg" style="fill:#1010ff">Cu<tspan dy="-6.5" class="sup">+</tspan></text>
<text x="65" y="432" class="dg side">Layer</text>
<text x="65" y="463.9" class="dg side">Gap</text>
<text x="65" y="496" class="dg side">Layer</text>
<rect x="113.6" y="314.7" width="59.9" height="20.7" fill="#fff" stroke="#440154" stroke-width="2.2"/>
<text x="143.55" y="330.6" text-anchor="middle" class="dg">Loop 1</text>
<rect x="224.6" y="314.8" width="60.1" height="20.6" fill="#fff" stroke="#489d8e" stroke-width="2.2"/>
<text x="254.65" y="330.6" text-anchor="middle" class="dg">Loop 2</text>
<text x="124" y="354.3" text-anchor="middle" class="dg">+V</text>
<text x="161.6" y="354.3" text-anchor="middle" class="dg">-V</text>
<text x="233.3" y="354.3" text-anchor="middle" class="dg">+V</text>
<text x="271.1" y="354.3" text-anchor="middle" class="dg">-V</text>
<path d="M116.1 359.3L131.9 359.3L124 398.6Z" fill="#a5a5a5"/>
<path d="M153.7 359.3L169.5 359.3L161.6 398.6Z" fill="#a5a5a5"/>
<path d="M225.4 359.3L241.2 359.3L233.3 398.6Z" fill="#a5a5a5"/>
<path d="M263.2 359.3L279 359.3L271.1 398.6Z" fill="#a5a5a5"/>
<rect x="118" y="398.6" width="50.3" height="9.2" fill="#dcdcdc"/>
<rect x="227.1" y="398.6" width="50.8" height="9.2" fill="#dcdcdc"/>
<rect x="112.7" y="407.8" width="61.1" height="35" fill="#f2f59a"/>
<rect x="112.7" y="472.7" width="61.1" height="34.9" fill="#f2f59a"/>
<rect x="222.1" y="407.8" width="60.8" height="35" fill="#f2f59a"/>
<rect x="222.1" y="472.7" width="60.8" height="34.9" fill="#f2f59a"/>
<path d="M124 439.7V419.2" stroke="#000" stroke-width="2.1" stroke-linecap="round"/>
<path d="M124 411.9L128 419.7L120 419.7Z" fill="#000"/>
<path d="M161.6 435.6V423.2" stroke="#000" stroke-width="2.1" stroke-linecap="round"/>
<path d="M161.6 415.9L165.6 423.7L157.6 423.7Z" fill="#000"/>
<path d="M154.86 421.47L130.74 457.83" stroke="#1010ff" stroke-width="1.9" stroke-dasharray="3.8 2"/>
<path d="M158.84 415.47L150.92 419.81L157.92 424.46Z" fill="#1010ff"/>
<path d="M126.76 463.83L127.68 454.84L134.68 459.49Z" fill="#1010ff"/>
<circle cx="124" cy="403.8" r="3.9" fill="#1010ff"/>
<circle cx="161.6" cy="411.3" r="3.9" fill="#1010ff"/>
<circle cx="124" cy="468" r="3.9" fill="#1010ff"/>
<path d="M124 504.7V483.7" stroke="#000" stroke-width="2.1" stroke-linecap="round"/>
<path d="M124 476.4L128 484.2L120 484.2Z" fill="#000"/>
<path d="M161.6 499.7V487.7" stroke="#000" stroke-width="2.1" stroke-linecap="round"/>
<path d="M161.6 480.4L165.6 488.2L157.6 488.2Z" fill="#000"/>
<circle cx="161.6" cy="476.4" r="3.9" fill="#1010ff"/>
<path d="M233.3 415.5V427.7" stroke="#000" stroke-width="2.1" stroke-linecap="round"/>
<path d="M233.3 435L237.3 427.2L229.3 427.2Z" fill="#000"/>
<path d="M271.1 435.6V423.2" stroke="#000" stroke-width="2.1" stroke-linecap="round"/>
<path d="M271.1 415.9L275.1 423.7L267.1 423.7Z" fill="#000"/>
<path d="M243.19 431.06L261.21 418.04" stroke="#1010ff" stroke-width="1.9" stroke-dasharray="3.8 2"/>
<path d="M237.35 435.27L246.3 433.99L241.38 427.18Z" fill="#1010ff"/>
<path d="M267.05 413.83L263.02 421.92L258.1 415.11Z" fill="#1010ff"/>
<circle cx="233.3" cy="438.2" r="3.9" fill="#1010ff"/>
<circle cx="271.1" cy="410.9" r="3.9" fill="#1010ff"/>
<path d="M233.3 499.7V487.7" stroke="#000" stroke-width="2.1" stroke-linecap="round"/>
<path d="M233.3 480.4L237.3 488.2L229.3 488.2Z" fill="#000"/>
<path d="M271.1 499.7V487.7" stroke="#000" stroke-width="2.1" stroke-linecap="round"/>
<path d="M271.1 480.4L275.1 488.2L267.1 488.2Z" fill="#000"/>
<circle cx="233.3" cy="476.4" r="3.9" fill="#1010ff"/>
<circle cx="271.1" cy="476.4" r="3.9" fill="#1010ff"/>
<text x="124" y="534.3" text-anchor="middle" class="dg">+P<tspan dy="4.0" class="ds">g</tspan></text>
<text x="161.6" y="534.3" text-anchor="middle" class="dg">+P<tspan dy="4.0" class="ds">l</tspan></text>
<text x="233" y="534.3" text-anchor="middle" class="dg">AFE</text>
<text x="271.1" y="534.3" text-anchor="middle" class="dg">+P<tspan dy="4.0" class="ds">l</tspan></text>
<circle cx="382.5" cy="377.3" r="3.9" fill="#1010ff"/>
<text x="390.5" y="382.6" class="dg" style="fill:#1010ff">Cu<tspan dy="-6.5" class="sup">+</tspan></text>
<text x="417" y="431.9" class="dg side">Layer</text>
<text x="417" y="463.7" class="dg side">Gap</text>
<text x="417" y="496.1" class="dg side">Layer</text>
<rect x="463.8" y="314.7" width="60.3" height="20.8" fill="#fff" stroke="#440154" stroke-width="2.2"/>
<text x="493.95" y="330.6" text-anchor="middle" class="dg">Loop 1</text>
<rect x="576.2" y="314.7" width="60" height="20.9" fill="#fff" stroke="#489d8e" stroke-width="2.2"/>
<text x="606.2" y="330.6" text-anchor="middle" class="dg">Loop 2</text>
<text x="474.6" y="362.8" text-anchor="middle" class="dg">+V</text>
<text x="512.2" y="362.8" text-anchor="middle" class="dg">-V</text>
<text x="586" y="362.8" text-anchor="middle" class="dg">+V</text>
<text x="623.7" y="362.8" text-anchor="middle" class="dg">-V</text>
<path d="M466.9 368.3L482.3 368.3L474.6 400.5Z" fill="#a5a5a5"/>
<path d="M504.5 368.3L519.9 368.3L512.2 408.3Z" fill="#a5a5a5"/>
<path d="M578.3 368.3L593.7 368.3L586 407.8Z" fill="#a5a5a5"/>
<path d="M616 368.3L631.4 368.3L623.7 407.8Z" fill="#a5a5a5"/>
<rect x="463.1" y="407.9" width="61.1" height="34.9" fill="#f2f59a"/>
<rect x="463.1" y="472.8" width="61.1" height="34.9" fill="#f2f59a"/>
<rect x="574.9" y="407.9" width="60.8" height="34.9" fill="#f2f59a"/>
<rect x="574.9" y="472.8" width="60.8" height="34.9" fill="#f2f59a"/>
<path d="M474.6 439.8V419.5" stroke="#000" stroke-width="2.1" stroke-linecap="round"/>
<path d="M474.6 412.2L478.6 420L470.6 420Z" fill="#000"/>
<path d="M512.2 435.8V423" stroke="#000" stroke-width="2.1" stroke-linecap="round"/>
<path d="M512.2 415.7L516.2 423.5L508.2 423.5Z" fill="#000"/>
<path d="M505.47 421.28L481.33 457.82" stroke="#1010ff" stroke-width="1.9" stroke-dasharray="3.8 2"/>
<path d="M509.44 415.27L501.53 419.63L508.54 424.26Z" fill="#1010ff"/>
<path d="M477.36 463.83L478.26 454.84L485.27 459.47Z" fill="#1010ff"/>
<circle cx="474.6" cy="403.7" r="3.9" fill="#1010ff"/>
<circle cx="512.2" cy="411.1" r="3.9" fill="#1010ff"/>
<circle cx="474.6" cy="468" r="3.9" fill="#1010ff"/>
<path d="M474.6 504.7V483.9" stroke="#000" stroke-width="2.1" stroke-linecap="round"/>
<path d="M474.6 476.6L478.6 484.4L470.6 484.4Z" fill="#000"/>
<path d="M512.6 499.7V487.7" stroke="#000" stroke-width="2.1" stroke-linecap="round"/>
<path d="M512.6 480.4L516.6 488.2L508.6 488.2Z" fill="#000"/>
<circle cx="512.6" cy="476.5" r="3.9" fill="#1010ff"/>
<path d="M586 415.2V427.9" stroke="#000" stroke-width="2.1" stroke-linecap="round"/>
<path d="M586 435.2L590 427.4L582 427.4Z" fill="#000"/>
<path d="M623.7 435.8V423.4" stroke="#000" stroke-width="2.1" stroke-linecap="round"/>
<path d="M623.7 416.1L627.7 423.9L619.7 423.9Z" fill="#000"/>
<path d="M595.84 431.29L613.86 418.11" stroke="#1010ff" stroke-width="1.9" stroke-dasharray="3.8 2"/>
<path d="M590.03 435.55L598.97 434.21L594.01 427.43Z" fill="#1010ff"/>
<path d="M619.67 413.85L615.69 421.97L610.73 415.19Z" fill="#1010ff"/>
<circle cx="586" cy="438.5" r="3.9" fill="#1010ff"/>
<circle cx="623.7" cy="410.9" r="3.9" fill="#1010ff"/>
<path d="M586 484V492.2" stroke="#000" stroke-width="2.1" stroke-linecap="round"/>
<path d="M586 499.5L590 491.7L582 491.7Z" fill="#000"/>
<path d="M623.4 499.7V487.7" stroke="#000" stroke-width="2.1" stroke-linecap="round"/>
<path d="M623.4 480.4L627.4 488.2L619.4 488.2Z" fill="#000"/>
<path d="M595.94 496.03L613.46 483.57" stroke="#1010ff" stroke-width="1.9" stroke-dasharray="3.8 2"/>
<path d="M590.07 500.2L599.03 498.99L594.16 492.14Z" fill="#1010ff"/>
<path d="M619.33 479.4L615.24 487.46L610.37 480.61Z" fill="#1010ff"/>
<circle cx="586" cy="503.1" r="3.9" fill="#1010ff"/>
<circle cx="623.4" cy="476.5" r="3.9" fill="#1010ff"/>
<text x="474.6" y="534.3" text-anchor="middle" class="dg">+P<tspan dy="4.0" class="ds">g</tspan></text>
<text x="512.4" y="534.3" text-anchor="middle" class="dg">+P<tspan dy="4.0" class="ds">l</tspan></text>
<text x="586" y="534.3" text-anchor="middle" class="dg">-P<tspan dy="4.0" class="ds">l</tspan></text>
<text x="623.6" y="534.3" text-anchor="middle" class="dg">+P<tspan dy="4.0" class="ds">l</tspan></text>
<circle cx="29.8" cy="933.5" r="3.9" fill="#1010ff"/>
<text x="37.3" y="938.5" class="dg" style="fill:#1010ff">Cu<tspan dy="-6.5" class="sup">+</tspan></text>
<text x="18.8" y="988.4" class="dg side">Layer</text>
<text x="18.8" y="1021" class="dg side">Gap</text>
<text x="18.8" y="1053" class="dg side">Layer</text>
<rect x="77.9" y="871.8" width="54.8" height="21.1" fill="#fff" stroke="#440154" stroke-width="2.2"/>
<text x="105.3" y="888.4" text-anchor="middle" class="dg">Loop 1</text>
<rect x="170.3" y="871.8" width="59.8" height="21.1" fill="#fff" stroke="#489d8e" stroke-width="2.2"/>
<text x="200.2" y="888.4" text-anchor="middle" class="dg">Loop 2</text>
<rect x="267.3" y="871.8" width="54.8" height="21.1" fill="#fff" stroke="#eaef3a" stroke-width="2.2"/>
<text x="294.7" y="888.4" text-anchor="middle" class="dg">Loop 3</text>
<text x="86.3" y="912" text-anchor="middle" class="dg">+V</text>
<text x="124.2" y="912" text-anchor="middle" class="dg">-V</text>
<text x="179.4" y="912" text-anchor="middle" class="dg">+V</text>
<text x="217.4" y="912" text-anchor="middle" class="dg">-V</text>
<text x="275.1" y="912" text-anchor="middle" class="dg">+V</text>
<text x="312.8" y="912" text-anchor="middle" class="dg">-V</text>
<path d="M78.4 916.9L94.2 916.9L86.3 956.5Z" fill="#a5a5a5"/>
<path d="M116.3 916.9L132.1 916.9L124.2 956.5Z" fill="#a5a5a5"/>
<path d="M171.5 916.9L187.3 916.9L179.4 956.5Z" fill="#a5a5a5"/>
<path d="M209.5 916.9L225.3 916.9L217.4 956.5Z" fill="#a5a5a5"/>
<path d="M267.2 916.9L283 916.9L275.1 956.5Z" fill="#a5a5a5"/>
<path d="M304.9 916.9L320.7 916.9L312.8 956.5Z" fill="#a5a5a5"/>
<rect x="80" y="956.4" width="51" height="8.6" fill="#e08a58"/>
<rect x="173.1" y="956.4" width="51" height="8.6" fill="#e08a58"/>
<rect x="269.1" y="956.4" width="50.6" height="8.6" fill="#e08a58"/>
<rect x="75.1" y="964.8" width="60.9" height="35" fill="#f2f59a"/>
<rect x="75.1" y="1029.7" width="60.9" height="34.8" fill="#f2f59a"/>
<rect x="168.1" y="964.8" width="60.9" height="35" fill="#f2f59a"/>
<rect x="168.1" y="1029.7" width="60.9" height="34.8" fill="#f2f59a"/>
<rect x="263.9" y="964.8" width="61" height="35" fill="#f2f59a"/>
<rect x="263.9" y="1029.7" width="61" height="34.8" fill="#f2f59a"/>
<path d="M86.3 969.2V989.9" stroke="#000" stroke-width="2.1" stroke-linecap="round"/>
<path d="M86.3 997.2L90.3 989.4L82.3 989.4Z" fill="#000"/>
<path d="M124.1 997.2V976.9" stroke="#000" stroke-width="2.1" stroke-linecap="round"/>
<path d="M124.1 969.6L128.1 977.4L120.1 977.4Z" fill="#000"/>
<path d="M94.45 994.54L116.05 969.96" stroke="#1010ff" stroke-width="1.9" stroke-dasharray="3.8 2"/>
<path d="M89.7 999.94L98.14 996.71L91.83 991.16Z" fill="#1010ff"/>
<path d="M120.8 964.56L118.67 973.34L112.36 967.79Z" fill="#1010ff"/>
<circle cx="86.4" cy="1003.7" r="3.9" fill="#1010ff"/>
<circle cx="124.1" cy="960.8" r="3.9" fill="#1010ff"/>
<path d="M86.3 1033.4V1054.2" stroke="#000" stroke-width="2.1" stroke-linecap="round"/>
<path d="M86.3 1061.5L90.3 1053.7L82.3 1053.7Z" fill="#000"/>
<path d="M124.1 1061.9V1041" stroke="#000" stroke-width="2.1" stroke-linecap="round"/>
<path d="M124.1 1033.7L128.1 1041.5L120.1 1041.5Z" fill="#000"/>
<path d="M94.4 1059.29L116.1 1034.31" stroke="#1010ff" stroke-width="1.9" stroke-dasharray="3.8 2"/>
<path d="M89.68 1064.73L98.1 1061.44L91.75 1055.93Z" fill="#1010ff"/>
<path d="M120.82 1028.87L118.75 1037.67L112.4 1032.16Z" fill="#1010ff"/>
<circle cx="86.4" cy="1068.5" r="3.9" fill="#1010ff"/>
<circle cx="124.1" cy="1025.1" r="3.9" fill="#1010ff"/>
<path d="M179.4 969.2V989.2" stroke="#000" stroke-width="2.1" stroke-linecap="round"/>
<path d="M179.4 996.5L183.4 988.7L175.4 988.7Z" fill="#000"/>
<path d="M217.6 972.6V984.6" stroke="#000" stroke-width="2.1" stroke-linecap="round"/>
<path d="M217.6 991.9L221.6 984.1L213.6 984.1Z" fill="#000"/>
<path d="M191.33 1001.07L205.67 998.03" stroke="#1010ff" stroke-width="1.9" stroke-dasharray="3.8 2"/>
<path d="M184.29 1002.56L192.99 1005.01L191.25 996.79Z" fill="#1010ff"/>
<path d="M212.71 996.54L205.75 1002.31L204.01 994.09Z" fill="#1010ff"/>
<circle cx="179.4" cy="1003.6" r="3.9" fill="#1010ff"/>
<circle cx="217.6" cy="995.5" r="3.9" fill="#1010ff"/>
<path d="M179.4 1033.4V1054.2" stroke="#000" stroke-width="2.1" stroke-linecap="round"/>
<path d="M179.4 1061.5L183.4 1053.7L175.4 1053.7Z" fill="#000"/>
<path d="M217.6 1057.3V1044.9" stroke="#000" stroke-width="2.1" stroke-linecap="round"/>
<path d="M217.6 1037.6L221.6 1045.4L213.6 1045.4Z" fill="#000"/>
<path d="M188.42 1060.28L208.58 1041.92" stroke="#1010ff" stroke-width="1.9" stroke-dasharray="3.8 2"/>
<path d="M183.1 1065.13L191.84 1062.85L186.18 1056.64Z" fill="#1010ff"/>
<path d="M213.9 1037.07L210.82 1045.56L205.16 1039.35Z" fill="#1010ff"/>
<circle cx="179.4" cy="1068.5" r="3.9" fill="#1010ff"/>
<circle cx="217.6" cy="1033.7" r="3.9" fill="#1010ff"/>
<path d="M275 992.8V980.8" stroke="#000" stroke-width="2.1" stroke-linecap="round"/>
<path d="M275 973.5L279 981.3L271 981.3Z" fill="#000"/>
<path d="M312.8 997.2V976.9" stroke="#000" stroke-width="2.1" stroke-linecap="round"/>
<path d="M312.8 969.6L316.8 977.4L308.8 977.4Z" fill="#000"/>
<path d="M286.95 966.13L300.85 963.27" stroke="#1010ff" stroke-width="1.9" stroke-dasharray="3.8 2"/>
<path d="M279.9 967.59L288.58 970.09L286.88 961.86Z" fill="#1010ff"/>
<path d="M307.9 961.81L300.92 967.54L299.22 959.31Z" fill="#1010ff"/>
<circle cx="275" cy="968.6" r="3.9" fill="#1010ff"/>
<circle cx="312.8" cy="960.8" r="3.9" fill="#1010ff"/>
<path d="M275 1057.6V1045.3" stroke="#000" stroke-width="2.1" stroke-linecap="round"/>
<path d="M275 1038L279 1045.8L271 1045.8Z" fill="#000"/>
<path d="M312.8 1061.5V1041.3" stroke="#000" stroke-width="2.1" stroke-linecap="round"/>
<path d="M312.8 1034L316.8 1041.8L308.8 1041.8Z" fill="#000"/>
<path d="M286.94 1030.87L300.86 1027.93" stroke="#1010ff" stroke-width="1.9" stroke-dasharray="3.8 2"/>
<path d="M279.89 1032.36L288.59 1034.82L286.85 1026.6Z" fill="#1010ff"/>
<path d="M307.91 1026.44L300.95 1032.2L299.21 1023.98Z" fill="#1010ff"/>
<circle cx="275" cy="1033.4" r="3.9" fill="#1010ff"/>
<circle cx="312.8" cy="1025.4" r="3.9" fill="#1010ff"/>
<text x="86.4" y="1091.7" text-anchor="middle" class="dg">-P<tspan dy="4.0" class="ds">g</tspan></text>
<text x="124.2" y="1091.7" text-anchor="middle" class="dg">+P<tspan dy="4.0" class="ds">g</tspan></text>
<text x="179.4" y="1091.7" text-anchor="middle" class="dg">-P<tspan dy="4.0" class="ds">g</tspan></text>
<text x="217" y="1091.7" text-anchor="middle" class="dg">AFE</text>
<text x="275" y="1091.7" text-anchor="middle" class="dg">+P<tspan dy="4.0" class="ds">l</tspan></text>
<text x="312.8" y="1091.7" text-anchor="middle" class="dg">+P<tspan dy="4.0" class="ds">g</tspan></text>
<circle cx="382.5" cy="933.4" r="3.9" fill="#1010ff"/>
<text x="390.5" y="938.5" class="dg" style="fill:#1010ff">Cu<tspan dy="-6.5" class="sup">+</tspan></text>
<text x="417" y="988.3" class="dg side">Layer</text>
<text x="417" y="1020.8" class="dg side">Gap</text>
<text x="417" y="1053.4" class="dg side">Layer</text>
<rect x="467" y="871.8" width="59.8" height="21.1" fill="#fff" stroke="#440154" stroke-width="2.2"/>
<text x="496.9" y="888.4" text-anchor="middle" class="dg">Loop 1</text>
<rect x="578.3" y="871.8" width="60" height="21.2" fill="#fff" stroke="#489d8e" stroke-width="2.2"/>
<text x="608.3" y="888.4" text-anchor="middle" class="dg">Loop 2</text>
<text x="477.4" y="919.1" text-anchor="middle" class="dg">+V</text>
<text x="515.2" y="919.1" text-anchor="middle" class="dg">-V</text>
<text x="588.4" y="919.1" text-anchor="middle" class="dg">+V</text>
<text x="626.1" y="919.1" text-anchor="middle" class="dg">-V</text>
<path d="M469.5 925.2L485.3 925.2L477.4 964.8Z" fill="#a5a5a5"/>
<path d="M507.3 925.2L523.1 925.2L515.2 964.8Z" fill="#a5a5a5"/>
<path d="M580.5 925.2L596.3 925.2L588.4 964.8Z" fill="#a5a5a5"/>
<path d="M618.2 925.2L634 925.2L626.1 964.8Z" fill="#a5a5a5"/>
<rect x="466.2" y="964.8" width="60.8" height="35" fill="#f2f59a"/>
<rect x="466.2" y="1030" width="60.8" height="34.5" fill="#f2f59a"/>
<rect x="577.2" y="964.8" width="60.7" height="35" fill="#f2f59a"/>
<rect x="577.2" y="1030" width="60.7" height="34.5" fill="#f2f59a"/>
<path d="M477.4 972.9V984.6" stroke="#000" stroke-width="2.1" stroke-linecap="round"/>
<path d="M477.4 991.9L481.4 984.1L473.4 984.1Z" fill="#000"/>
<path d="M515.2 992.8V980.8" stroke="#000" stroke-width="2.1" stroke-linecap="round"/>
<path d="M515.2 973.5L519.2 981.3L511.2 981.3Z" fill="#000"/>
<path d="M487.39 988.36L505.31 975.44" stroke="#1010ff" stroke-width="1.9" stroke-dasharray="3.8 2"/>
<path d="M481.55 992.57L490.5 991.3L485.59 984.49Z" fill="#1010ff"/>
<path d="M511.15 971.23L507.11 979.31L502.2 972.5Z" fill="#1010ff"/>
<circle cx="477.5" cy="995.5" r="3.9" fill="#1010ff"/>
<circle cx="515.2" cy="968.3" r="3.9" fill="#1010ff"/>
<path d="M477.4 1037.6V1049.3" stroke="#000" stroke-width="2.1" stroke-linecap="round"/>
<path d="M477.4 1056.6L481.4 1048.8L473.4 1048.8Z" fill="#000"/>
<path d="M515.2 1057.3V1045.9" stroke="#000" stroke-width="2.1" stroke-linecap="round"/>
<path d="M515.2 1038.6L519.2 1046.4L511.2 1046.4Z" fill="#000"/>
<path d="M487.47 1053.27L505.23 1040.73" stroke="#1010ff" stroke-width="1.9" stroke-dasharray="3.8 2"/>
<path d="M481.59 1057.42L490.54 1056.24L485.7 1049.37Z" fill="#1010ff"/>
<path d="M511.11 1036.58L507 1044.63L502.16 1037.76Z" fill="#1010ff"/>
<circle cx="477.5" cy="1060.3" r="3.9" fill="#1010ff"/>
<circle cx="515.2" cy="1033.7" r="3.9" fill="#1010ff"/>
<path d="M588.4 972.9V984.6" stroke="#000" stroke-width="2.1" stroke-linecap="round"/>
<path d="M588.4 991.9L592.4 984.1L584.4 984.1Z" fill="#000"/>
<path d="M626.1 969.2V989.2" stroke="#000" stroke-width="2.1" stroke-linecap="round"/>
<path d="M626.1 996.5L630.1 988.7L622.1 988.7Z" fill="#000"/>
<circle cx="588.4" cy="995.5" r="3.9" fill="#1010ff"/>
<circle cx="626.1" cy="1003.6" r="3.9" fill="#1010ff"/>
<path d="M588.4 1037.6V1049.3" stroke="#000" stroke-width="2.1" stroke-linecap="round"/>
<path d="M588.4 1056.6L592.4 1048.8L584.4 1048.8Z" fill="#000"/>
<path d="M626.1 1033.4V1054.2" stroke="#000" stroke-width="2.1" stroke-linecap="round"/>
<path d="M626.1 1061.5L630.1 1053.7L622.1 1053.7Z" fill="#000"/>
<circle cx="588.4" cy="1060.3" r="3.9" fill="#1010ff"/>
<circle cx="626.1" cy="1068.5" r="3.9" fill="#1010ff"/>
<path d="M619.35 1013.76L595.15 1050.14" stroke="#1010ff" stroke-width="1.9" stroke-dasharray="3.8 2"/>
<path d="M623.33 1007.76L615.4 1012.1L622.4 1016.75Z" fill="#1010ff"/>
<path d="M591.17 1056.14L592.1 1047.15L599.1 1051.8Z" fill="#1010ff"/>
<text x="477.4" y="1091.5" text-anchor="middle" class="dg">-P<tspan dy="4.0" class="ds">l</tspan></text>
<text x="515.2" y="1091.5" text-anchor="middle" class="dg">+P<tspan dy="4.0" class="ds">l</tspan></text>
<text x="588.4" y="1091.5" text-anchor="middle" class="dg">-P<tspan dy="4.0" class="ds">l</tspan></text>
<text x="626.1" y="1091.5" text-anchor="middle" class="dg">-P<tspan dy="4.0" class="ds">g</tspan></text>
</svg>
</body></html>
